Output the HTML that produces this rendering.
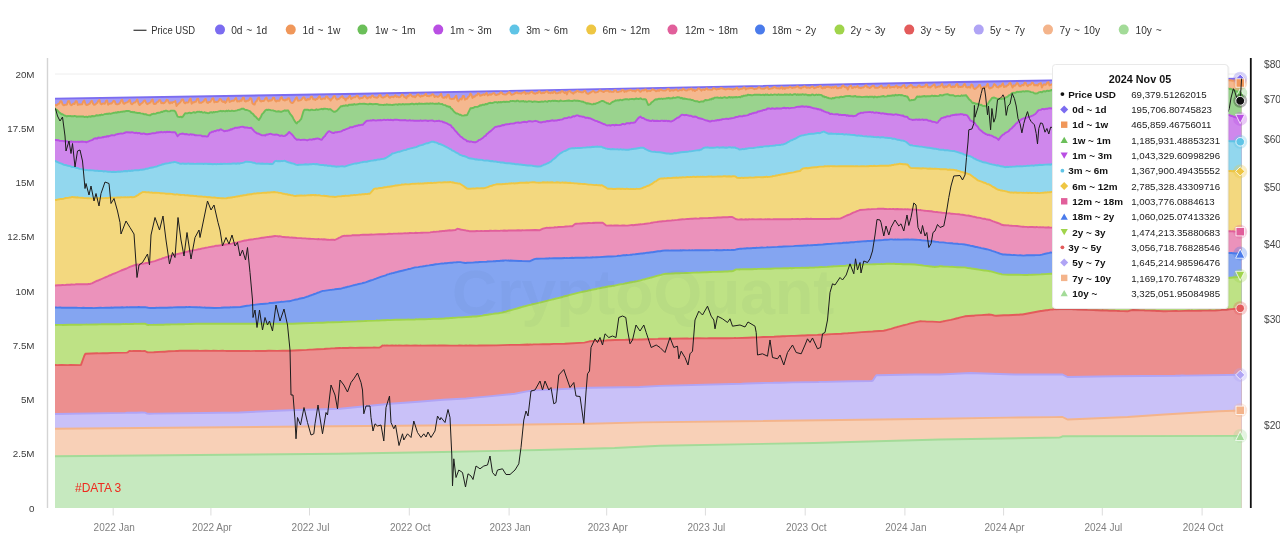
<!DOCTYPE html>
<html lang="en"><head><meta charset="utf-8"><title>Realized Cap - UTXO Age Bands</title>
<style>html,body{margin:0;padding:0;background:#fff;}body{width:1280px;height:546px;overflow:hidden;}svg{display:block;}text{font-family:'Liberation Sans', 'DejaVu Sans', sans-serif;}</style></head><body>
<svg width="1280" height="546" viewBox="0 0 1280 546">
<rect width="1280" height="546" fill="#ffffff"/>
<line x1="55" y1="74" x2="1242" y2="74" stroke="#eeeeee" stroke-width="1"/>
<defs><clipPath id="cp"><rect x="55" y="60" width="1186.5" height="448"/></clipPath></defs>
<g clip-path="url(#cp)" stroke-width="1.9" stroke-linejoin="round">
<path d="M50 515L50 98.6L55 98.6l304.7-4.8l599.8-11.8l91.1-1.6l190.9-1.6L1247 78.8L1247 515Z" fill="#a59bf5" stroke="#7b6cf0"/>
<path d="M50 515L50 104.8L55 104.8l1.1 0.7l1.1-0.6l1-1.1l1.1-0.3l1.1-2.2l1.1 0l1.1 3.1l1.1 0.9l1.1-0.5l1 0.1l1.1-0.4l1.1-3.3l1.1-0.2l1.1 3.3l1.1 0.9l1-0.6l1.1-1.1l1.1 0.6l1.1-2.8l1.1-0.2l1.1 3.9l1.1-0.5l3.2-0.1l1.1-3l1.1-0.9l1.1 3.3l1.1 1.3l1-0.3l2.2-1.1l1.1-1.9l1.1-1l1.1 2.9l1 1.1l1.1-0.2l2.2-1.9l1.1-2l1.1-0.6l1 3.6l1.1 0.6l1.1-0.9l2.2 0.3l1.1-2.9l1.1-0.4l1 4.3l1.1-0.9l1.1-0.3l1.1 0.1l1.1-1.2l1.1-1.6l1.1 0.3l1 2.8l1.1 0.5l1.1-0.2l1.1-0.4l1.1-1l1.1-2.5l1-0.6l1.1 3.6l1.1 0.5l1.1-1l2.2-0.6l1.1-1.4l1-0.9l1.1 3.5l1.1 0.9l2.2-1.9l1 0.1l2.2-3.1l1.1 4.1l1.1 1.6l1.1-1.2l2.1-1.5l1.1-1.6l1.1-0.4l1.1 2.5l1.1 1.3l3.2-1.7l1.1-2l1.1-1l1.1 4.3l1.1 0.2l1.1-0.4l1-1.4l1.1-0.3l1.1-1.6l1.1-0.1l1.1 3l1.1-0.5l1 0.7l1.1-0.6l1.1-1.1l1.1-1.9l1.1 0.4l1.1 2.5l1.1 0.7l1-1.2l1.1 0.8l1.1-1.1l1.1-0.2l1.1-0.6l1.1 5l1.1-1.7l2.1-1.6l1.1-1.3l1.1-2l1.1-0.1l1.1 3.1l1 0.9l1.1-1.1l1.1 0.3l1.1-0.3l1.1-2.6l1.1-1.2l1.1 5.2l1-1.5l1.1 0.4l1.1-1l1.1 0.1l1.1-2.8l1.1-0.2l1 4l2.2 0l1.1-0.8l1.1-0.4l1.1-2.2l1.1-0.4l1 3.5l1.1 0.6l1.1-1l1.1 0l1.1-1.3l1-2.1l1.1-0.4l1.1 4.2l1.1-0.7l1.1 0.3l1.1-0.1l1.1-1.2l1-1.8l1.1 0.4l1.1 2l1.1 0.8l1.1-0.9l1.1 1.7l1-1l1.1-2.8l1.1-1.2l1.1 4.1l2.2-1.2l2.1-0.1l2.2-2.8l1.1 3.7l1.1-0.5l1.1 0.4l1-1.2l1.1 0.5l1.1-2.8l1.1-0.4l1.1 3.6l1.1 0.4l1.1-0.8l1 0l1.1-0.9l1.1-1.9l1.1 0.5l1.1 4.8l1.1 1l1.1 0.3l1-2.9l1.1-0.6l1.1-2.7l1.1-1l1.1 3.4l1.1 0.8l1-0.8l1.1 0.3l1.1-0.5l1.1-2.2l1.1-0.8l1.1 2.7l1 1l1.1-1.2l1.1 0.6l1.1-0.5l1.1-2.5l1.1-0.1l1 2.9l1.1 1l1.1-1l1.1 0.2l1.1 0l1.1-2.9l1.1-0.7l1 2.6l2.2 0.8l1.1-1l1.1 0.2l1.1-1.6l1 0.4l1.1 3.2l1.1 1.1l1.1 0.3l1.1-1.1l1.1-1.7l1.1-2.1l1-0.9l1.1 3.3l1.1 0.1l1.1-0.3l1.1-0.6l2.2-2.6l1 0.3l1.1 2.5l1.1 0.3l1.1-1.4l1.1 0.7l1.1-0.5l1-2.5l1.1-0.1l1.1 2.7l1.1 0.1l1.1 0.7l1.1-1.1l1 0.1l1.1-1.8l1.1-1.1l1.1 2.9l1.1 0.2l1.1-0.8l1.1 0.1l1 0.3l1.1-2.3l1.1-0.1l1.1 2.1l1.1 0.3l1.1 1.8l1.1-1.6l1-0.8l1.1-2l1.1-0.3l1.1 2.4l1.1 1.3l1.1-0.6l1-0.2l1.1-1.1l2.2-1.6l1.1 2.1l1.1 0.3l1 1.9l1.1-1.9l1.1-0.1l1.1-1.6l1.1-1.1l1.1 3.3l1-0.8l2.2-1l1.1 0l1.1-1.5l1.1 0l1.1 2.1l1 0.9l1.1-0.7l1.1 0.1l1.1-0.5l1.1-1.4l1.1-0.3l1 1.6l1.1 1l1.1-0.9l1.1-0.5l1.1 0.7l1.1-1.9l1.1-0.4l1 1.6l3.3 0.6l1.1-0.8l1.1-1.8l1.1-0.1l1 2l1.1 0.6l1.1 0l1.1-0.8l1.1-0.2l1.1-1.9l1 1l1.1 1.5l1.1 0.6l1.1-1.1l1.1-0.1l1.1 0.6l2.1-2l1.1 1.8l1.1-0.6l1.1 1l1.1-0.3l1.1-1.1l1-1.5l1.1 0.5l1.1 2.1l1.1 0.2l1.1 1.1l1.1-2.4l1.1 0.4l1-2.1l1.1 0.4l1.1 1.4l1.1 0.7l1.1-0.5l1.1 1l2.1-2.4l1.1-0.6l1.1 1.7l1.1 0.8l1.1-1.2l1 0.6l1.1-0.7l1.1-0.4l1.1-1.4l1.1 2.4l1.1-0.2l1 0.5l1.1-1l1.1 0.1l1.1-1.4l1.1 0.5l1.1 2.5l1.1-0.8l1 0.1l1.1 0.6l2.2-1.6l1.1-1.6l1.1 3.2l1 0.9l1.1-0.1l1.1-1l1.1 0.9l1.1-3.1l1.1 0.2l1.1 3.8l2.1 0.6l1.1-0.5l1.1 0.1l1.1-1.9l1.1-1.2l1.1 4.7l1 0.9l1.1-1.5l1.1-1.1l1.1 0.7l1.1-3.4l1.1 0l1 3.7l1.1-0.8l1.1-0.1l1.1-1.9l1.1-0.7l1.1-2.6l1 0.9l1.1 3.5l1.1-1.5l1.1 0.2l1.1-1.4l1.1 0l1-2l1.1 0.4l1.1 2.1l2.2-0.8l1.1-0.7l1.1 0.7l2.1-2.2l1.1 2.7l2.2-1.3l1.1 0.6l2.1-1.6l1.1-0.1l1.1 1.7l1.1 0.3l1.1-0.6l1.1-0.1l1-0.8l1.1-1.3l1.1 0.3l1.1 1.5l2.2 0.4l1 0.1l3.3-2.5l2.2 2.7l2.1-0.6l1.1-1l1.1-0.2l1.1-0.7l1.1 1.1l2.1-0.1l1.1 0.4l1.1-1.1l1.1-0.1l1.1-0.7l1.1 2.2l1.1-0.9l2.1 0.4l2.2-1.6l1.1-0.2l1.1 1.5l1.1 0.1l1 0.5l1.1-0.9l1.1 0.3l1.1-1.7l1.1 0l1.1 1.6l1 0.2l1.1-0.9l1.1 0.7l1.1-1l1.1-0.6l1.1-0.1l1.1 1.6l1-0.4l1.1 0.7l1.1-1.1l1.1 0.9l1.1-1.6l1.1 0.4l1 1.5l1.1-0.1l1.1-0.2l1.1-0.8l1.1 0.5l1.1-1.7l1 0.1l2.2 1.8l1.1-1.1l1.1 2.5l1.1-2.8l2.1-0.7l1.1 1.7l1.1 0.2l1.1 0.9l1.1-1.6l1.1 0.3l1-1.4l1.1-0.2l1.1 1l1.1 0l1.1 0.4l2.1 0l1.1-1.3l1.1-0.1l1.1 2.4l1.1 0.5l1.1 0.1l1.1-1l1-0.3l2.2-1.5l1.1 0.4l1.1 1.1l1.1-0.1l1-0.3l1.1-0.5l1.1-1.2l1.1 0l1.1 0.8l2.2 0.8l1-0.9l2.2-0.5l1.1 0.1l1.1 1.1l1.1-0.6l1.1 0.6l2.1 0.1l1.1-1.8l1.1 0l1.1 1.8l1.1 0.2l2.1-0.7l1.1 0l1.1-1.5l1.1 0l1.1 2l1.1-0.8l1 0.5l1.1-1.1l1.1 0.1l1.1-0.5l1.1-0.2l1.1 0.8l1 0.3l1.1-0.5l1.1 0.9l2.2-1.8l1.1 0.1l1 1.6l1.1 0.5l1.1-1.2l1.1-0.5l1.1 0.4l1.1-1l1 0l1.1 2l1.1-0.9l2.2 0.4l2.2-1.7l2.1 0.8l1.1 1.1l1.1-0.2l1.1-0.9l1.1 0.8l1-1.2l1.1 0l1.1 0.6l1.1 0.3l2.2-0.1l2.1-1.5l1.1 0l1.1 2.1l1.1-0.8l1.1-0.2l1.1 0.6l3.2-1.4l1.1 1.5l1.1-0.1l1.1-0.8l2.1 0.5l1.1-1.7l1.1 0.6l1.1 0.9l1.1 0.3l1.1-0.2l1.1-1.1l1 0.3l1.1-0.3l1.1-0.6l1.1 2l1.1-1.1l1.1 1.6l1-1l1.1-0.1l1.1-1.6l1.1 0l2.2 2.3l1.1-1.3l1 0l1.1 0.7l1.1-1.1l1.1-0.7l1.1 1.3l2.1 0l1.1 0.3l1.1-0.2l1.1-1.6l2.2 0.7l1 0.8l1.1-0.6l1.1 0l1.1-0.2l1.1-0.8l1.1 0.2l1 0.6l1.1 0.1l1.1 0.6l3.3-0.9l1.1 0.6l1-0.3l2.2 0.8l1.1-0.8l1.1 0.3l1.1-1.1l1-0.4l1.1 1.9l1.1-0.1l1.1-0.6l1.1 0l1.1-0.3l1.1-1.1l1 0l1.1 1.9l1.1-0.9l1.1 0.1l1.1-0.4l2.1-0.3l1.1 0.1l2.2 1.3l1.1-0.7l1.1 0.1l2.1-1.5l1.1 0.4l1.1 1l3.3 0.1l3.2-1.7l1.1 2l2.2-0.4l1.1-0.5l1 0.1l1.1-1.2l1.1 0.2l1.1 0.8l1.1 0.4l1.1-0.3l1.1 0.5l1-0.5l1.1-1.3l1.1 1.9l1.1-1l1.1 1.2l1.1-1.4l1 0.4l1.1-0.1l2.2-1.2l1.1 1l1.1 0.4l1-0.6l1.1 0.1l1.1-0.2l1.1-0.8l1.1-0.1l1.1 1.3l1-0.1l1.1 0.8l1.1-1.2l1.1 0.1l1.1-1l1.1 0.5l1.1 1l2.1-0.3l1.1 0.5l2.2-1.5l1.1 0.2l1 1.6l1.1-0.6l1.1-0.1l1.1-0.8l1.1 0.3l1.1-1l1.1-0.1l1 2l1.1 0.5l1.1-1.5l1.1 1l1.1-1.2l1.1 0.2l1-0.3l1.1 0.6l1.1 0l1.1 0.7l1.1-1.1l1.1 0.8l1.1-1l1-0.4l1.1 1.9l1.1 0.1l1.1-0.5l2.2-0.1l1.1-2l1-0.2l1.1 1.5l2.2 0.5l1.1 2.1l1.1-2.5l2.1-1.6l1.1 2.7l1.1-0.3l1.1-1.1l1.1 0.7l1.1-0.6l1-1l1.1 1.9l1.1-0.1l1.1 0.5l1.1-0.8l1.1 0.2l1-0.6l1.1-1.1l1.1-0.7l1.1 2.2l1.1-0.1l1.1 0.8l1-0.5l2.2-1.8l1.1 0l1.1 2l1.1-0.1l1 0.2l1.1-0.2l1.1-0.5l1.1-1l1.1-0.7l1.1 2.2l1.1 0.1l2.1-0.4l1.1 0.7l1.1-2l1.1-1.1l1.1 2.8l1-0.6l2.2-0.3l1.1 0.5l1.1-1.2l1.1-0.6l1.1 2.3l1-1.1l2.2 0.8l2.2-2.1l1.1-0.5l1 2.6l1.1 0.5l1.1-0.4l1.1-1.5l1.1 0.1l1.1-1.5l1.1 0.5l1 2.4l1.1-0.9l1.1 0.6l2.2-0.1l1.1-1.4l1.1-0.7l1 1.7l2.2 0.1l1.1-0.4l1.1-0.1l1.1-2l1 0l1.1 2.8l1.1-0.2l1.1 0.5l4.3-3.3l1.1 3.4l3.3-1.3l1.1 0.1l2.1-2.7l1.1 3.1l1.1 0.7l1.1-1.4l1.1 0.8l1-0.6l1.1-1.2l1.1-0.6l1.1 2.1l1.1 0.5l1.1-0.9l1 0.8l1.1-0.7l1.1-1.9l1.1-0.6l1.1 3.4l1.1-0.8l1.1 0.6l1-0.4l1.1 0.2l1.1-2.3l1.1-0.7l1.1 3l1.1 0.6l1-0.2l1.1-0.6l1.1 1l1.1-3.3l1.1 0.6l1.1 3.2l1.1 0.8l1-0.3l1.1-1.2l1.1-0.6l1.1-2l1.1 0l1.1 3.7l1-1l1.1-0.3l1.1-0.6l1.1 0.8l2.2-3.8l1.1 3.9l1 1l1.1-1l1.1 0.1l1.1-1.1l1.1-2.5l1.1 0.7l1.1 1.8l1 0.6l1.1 0.3l1.1-1.7l1.1 0.6l2.2-3.2l1 3.9l1.1-0.7l1.1 0.1l1.1-1l1.1-0.6l1.1-1.7l1-0.4l2.2 4.8l1.1-2.3l1.1 0.6l1.1-1.2l1.1-1.8l1 0.7l1.1 2.1l1.1 0.7l2.2-1.5l1.1 0.4l1-2.5l1.1-0.1l1.1 2.4l1.1 1.1l1.1-1.3l1.1-0.1l1-0.5l1.1-1.7l1.1 0.5l1.1 2.3l2.2-0.4l1.1 0.6l1-1.5l2.2-1.1l1.1 4.6l1.1-2.4l1.1-0.9l1.1 0.5l1-0.4l1.1-1.9l1.1-0.5l1.1 3.4l2.2-1.1l1 0.3l2.2-1.5l1.1-0.5l1.1 1.8l1.1 0.6l1-0.8l1.1 0.1l1.1 0.5l1.1-2.8l1.1 0.4l1.1 2.2l1.1 1l1-1.3l1.1 1.6l2.2-3.8l1.1 0.7l1.1 1.8l1 0.3l1.1-0.8l1.1 1l1.1-0.9l1.1 0.4l1.1-2.7l1 2.3l1.1 1.9l2.2-2.4l1.1 0.6l1.1-1.5l1.1-0.1l1 1.4l1.1 0.8l1.1-0.6l2.2-0.1l1.1-2.2l1.1 0.5l1 2.7l1.1-0.5l1.1 0.3l1.1-0.9l1.1 0.3l1.1-2.3l1-0.1l1.1 3.1l1.1 0.2l1.1-1.4l1.1 1l2.1-2.3l1.1-0.5l1.1 2.4l1.1-0.4l1.1 1l2.2-0.7l1-0.1l1.1-2.7l1.1 2.6l1.1 1.1l1.1-1.2l1.1-0.1l1.1-0.4l1-1.1l1.1-0.5l1.1 2.5l1.1 0.1l1.1-0.7l1.1-0.4l1 0.2l1.1-1.9l1.1 0.1l1.1 2.7l1.1 0.2l3.2-1.1l1.1-1.9l1.1 0l1.1 3.7l1.1-0.4l2.1-1.5l1.1-0.2l1.1-1.8l1.1 0.7l1.1 1.4l1.1 0.7l1-0.8l1.1 0.9l2.2-2.7l1.1 0l1.1 2.9l1 0.1l2.2-0.6l2.2-0.1l1.1-2.4l1.1 3.2l1-0.6l1.1 0.3l1.1-1l1.1-0.1l1.1-1.9l1.1 0l1.1 2.3l1 1l1.1-0.9l1.1-0.5l1.1 0.1l1.1-2.3l1.1 0l1 3.3l1.1-0.7l1.1 1.2l1.1-1.3l1.1 0.3l1.1-2.3l1-0.3l1.1 2.8l2.2-0.6l1.1 0.2l2.2-2.3l1-0.1l1.1 3.2l1.1-0.6l1.1 0.5l1.1-1l2.2-1.3l1-1l1.1 3.2l1.1 0.1l1.1-0.2l1.1-1.4l1.1 0.3l1-2.1l1.1 0.3l1.1 2.2l1.1 0.6l5.4-2.9l1.1 2.5l2.2-0.1l1.1-0.3l2.1-1.6l1.1-1.3l1.1 3.2l2.2 0.9l1-4l2.2-0.6l1.1 0.1l2.2 0.5l3.2-0.6l3.3 0.5l1.1 3l1.1-0.6L1247 83L1247 515Z" fill="#f5b88f" stroke="#f0975a"/>
<path d="M50 515L50 108.4L55 108.4l1.1 1.3l1.1 0.5l1 1.1l1.1 1.4l1.1 0.5l1.1 1l1.1 0.1l2.2 1.4l1 0.1l1.1 0.7l1.1-0.6l1.1 0.3l1.1-0.3l1.1 0.4l2.1 0l1.1-0.3l1.1 0.1l1.1 0.7l1.1-0.4l4.3 0.1l1.1-0.1l1.1 0.6l2.2-0.4l1 0.6l1.1-0.7l1.1-0.1l1.1 0.4l1.1-0.8l2.1 0.3l1.1-0.2l1.1-0.8l2.2 0.2l1.1-0.5l1 0.3l1.1-0.8l1.1 0.5l2.2-1l1.1 0.1l1.1-0.5l1 0.4l1.1-0.6l1.1 0.4l3.3-1l1.1 0.1l1-0.5l1.1 0.4l1.1-0.8l1.1 0.2l1.1-0.1l1.1-0.4l1 0.2l1.1-0.5l1.1 0.1l2.2-0.6l2.2 0.1l1 0.3l1.1 0.8l1.1-0.3l1.1 0.5l1.1-0.3l1 0.6l1.1 0.1l1.1 0.3l2.2 0l1.1 0.4l2.1 0.2l1.1 0.7l1.1-0.2l1.1 0.2l1.1 0.6l2.1 0.3l1.1 0l1.1-0.9l1.1-0.2l1.1-0.5l1.1 0.3l1.1-0.3l1-0.6l3.3-0.5l1.1-0.7l1.1 0.2l1-0.7l1.1-0.1l1.1-0.5l1.1 0l1.1 0.7l2.2-0.2l1-0.6l1.1 0l2.2 0.1l1.1 1l2.2 4.9l2.1 0.5l1.1-0.4l1.1 0.6l1.1-0.9l2.1-3.1l2.2 0.1l2.2-0.8l1.1 0.6l1.1-0.2l2.1-0.9l1.1 0.7l1.1-0.4l1.1-0.6l1.1 0.1l1-0.3l1.1 0.6l1.1-0.4l1.1 0.8l1.1 0l1.1-0.4l1.1 0.7l1-0.1l1.1 0.4l1.1-0.1l1.1-0.7l1.1-0.3l1 0.6l1.1-0.7l1.1 0.3l1.1-0.4l2.2-0.2l3.2-0.9l1.1 0.5l1.1-0.3l1.1 0.1l1.1 0.3l1-0.7l1.1 0.5l1.1-0.7l1.1 0.6l1.1 0l1.1-0.5l2.1 0.5l3.3-0.7l1.1-0.5l1.1-0.1l2.1-1l1.1-0.2l1.1 0.2l1.1 0.9l1.1 0.3l1.1 0l3.2 1.4l1.1 1.5l1.1 0.6l1.1 1l1.1 1.6l1 0.5l1.1 1.4l2.2 2.1l2.2-3.7l1-2.3l1.1-1l2.2-2.7l1.1-0.7l1.1 0.3l1-0.4l2.2 0.6l2.2 0.2l1.1 0.5l1 0.1l1.1 0.6l2.2-0.3l2.2 0.5l1.1-0.1l3.2-1.4l1.1 0.6l1.1-0.5l1.1 0.1l2.1 3.7l1.1 1.2l1.1 1.5l1.1 2.3l2.2 3.6l1 0.6l1.1-1.6l1.1-0.3l2.2-2.6l2.2-7.4l1-1.7l3.3-0.2l1.1 0.6l1.1 0.1l1-0.5l1.1-0.1l1.1 0.4l2.2 0l1.1-0.8l1 0.5l1.1-0.1l3.3-0.9l1.1 0.5l1.1-0.6l1-0.1l1.1 0.3l1.1 0l1.1 0.6l1.1-0.4l1.1 0.1l1.1 1.1l2.1 1.5l1.1 0l2.2-1.1l3.2-3.7l1.1-0.9l1.1 0.1l1.1-0.6l1.1 0.3l1-0.6l2.2 0.4l1.1-0.9l1.1-0.2l1.1 0.2l1-0.3l1.1 0.3l1.1-0.8l1.1 0.6l2.2-0.3l2.1-0.7l1.1 0.3l3.3-0.2l4.3 0.7l1.1-0.6l3.3 0.4l3.2-0.3l2.2 0.4l1.1 0.5l3.2 0.1l1.1 0.1l1.1-0.3l1.1 0.2l1.1-0.7l1 0.6l2.2-0.2l2.2 0.5l1.1-0.5l1 0.1l1.1-0.3l1.1 0l1.1 0.5l1.1-0.8l1.1 0.1l1.1 0.4l2.1-0.6l1.1 0.5l1.1-0.3l1.1 0.1l1.1-0.1l2.1 0l2.2-0.5l1.1 0.1l1.1 0.6l2.1-0.8l1.1 0.7l1.1-0.6l1.1-0.2l1.1 0.4l1.1-0.3l2.1 0.3l1.1-0.3l1.1 0.2l1.1-0.4l1.1 0.4l1 0l1.1-0.5l1.1 0.3l1.1-0.3l2.2 0.6l1.1-0.3l2.1 0.2l1.1-0.6l1.1 0.7l1.1 0.2l1.1-0.2l1 1l2.2 0.2l1.1 1.1l1.1 0l1.1 0.6l1.1-0.2l1 1.7l1.1 0.6l2.2 2.9l2.2 1.7l1.1 0l1 0.5l1.1 0.7l1.1 0.1l1.1 0.8l2.2 0l1-0.4l1.1 0.1l1.1-0.2l3.3-6.8l1 0l2.2-0.5l1.1-0.9l3.2-0.2l1.1-0.5l1.1-0.9l1.1 0.2l1.1-0.7l2.2 0l1.1-0.9l1 0.4l2.2-1.2l1.1-0.3l2.2 0.3l2.1-0.8l1.1-0.2l1.1 0l1.1 0.6l1.1-0.7l1 0.3l1.1-0.3l1.1 0.2l2.2-0.6l1.1 0.5l1-0.4l3.3 0.2l1.1-1l1.1 0.2l1.1-0.2l2.1 0.4l1.1 0l1.1-0.6l1.1 0.1l1.1 0.7l2.1-0.3l1.1 0.1l1.1-0.3l1.1 0.7l1.1-0.4l1.1 0.5l2.1-0.6l1.1 0.2l1.1 0l1.1 0.6l2.2-0.6l4.3 0.6l2.2-0.2l1-0.4l1.1 0.4l2.2-0.6l2.2 0.6l1.1-0.9l1 0l1.1 0.4l1.1-0.4l1.1-0.1l1.1 0.2l1.1-0.3l1 0.3l1.1-0.1l1.1 0.4l1.1 0l1.1-0.9l1.1 0.5l2.1 0.2l5.4-0.6l1.1 0.4l2.2 0.1l2.2-0.6l1.1 0.4l2.1-0.2l1.1 0.4l1.1 0l1.1 0.5l2.1 0.2l1.1 0.6l1.1 0.3l1.1 0.9l1.1-0.2l2.2 0.4l2.1 0.7l1.1-0.1l1.1-0.6l1.1 0.4l1.1-0.8l2.1-0.7l3.3-1.6l1.1-0.1l1.1 0.4l1 0.8l1.1 0.3l1.1 0.8l1.1-0.1l1.1 1l1.1-0.2l1.1-1.2l1-0.7l2.2-0.8l1.1-0.9l1.1 0.3l1.1-0.4l1 0.3l1.1-0.8l2.2 0.6l1.1-0.7l2.2-0.4l2.1 0.1l1.1 0.3l1.1-0.5l1.1 0l1.1-0.2l2.1 0.4l2.2-0.8l1.1 0.4l1.1 0.1l2.1-0.7l1.1 0.8l1.1 0.3l1.1-0.2l1.1 0l1 0.4l2.2 5.4l1.1-0.3l1.1-0.7l1.1-1.6l2.1-1.5l1.1-1l1.1-0.6l1.1 0.2l2.2-0.8l1 0.3l1.1-0.5l1.1 0.5l1.1-0.4l2.2 0l1.1-0.4l1 0.1l1.1-0.5l1.1 0.8l1.1-0.5l1.1 0.3l1.1-0.9l1 0.4l1.1 0l2.2-0.8l2.2 0.4l1.1 0.8l1-0.5l1.1 0.9l1.1-0.2l4.4 0.9l2.1 0.1l1.1 0.6l1.1-0.1l1.1 0.6l1.1 0.4l1 0.2l1.1-0.1l2.2 1.1l2.2-0.8l2.1 0.1l1.1-1.1l1.1-0.4l1.1 0.2l2.2-0.3l1-0.7l1.1 0.3l1.1-1l1.1 0.2l1.1-0.9l1.1-0.2l2.1-0.1l1.1 0.4l1.1 0l1.1-0.4l1.1 0.6l1-0.5l1.1-0.3l1.1 0l1.1 0.5l1.1 0.1l1.1-0.7l1.1-0.2l1 0.6l1.1-0.5l1.1 0.6l1.1-0.5l1.1 0.1l1.1-0.3l1 0.4l2.2-0.5l1.1 0.4l1.1-1.1l1.1 0.3l1.1-0.9l1 0.3l1.1-0.5l1.1 0.1l1.1-0.9l1.1 0.4l1.1-0.1l1 0.4l1.1 0l2.2-0.6l3.3 0.1l2.1-0.2l1.1 0.5l2.2-0.5l1.1 0.6l1.1-0.7l1 0.3l1.1-0.3l1.1 0.6l1.1 0l1.1-0.6l1.1 0.4l1 0.1l1.1-0.5l2.2 0.1l1.1 0.4l1.1-0.7l1.1 0.5l2.1-0.2l2.2 0.3l1.1-0.6l1.1 0.6l1-0.5l1.1 0.4l1.1 0l1.1-0.6l1.1 0.7l1.1 0.1l1-0.6l1.1-0.3l1.1 0.1l1.1 0.8l1.1-0.8l1.1 0.8l1-0.6l1.1 0.5l1.1-0.6l1.1 0.1l1.1 0.5l1.1-0.5l1.1 0.2l1 0.6l1.1-0.2l2.2 0.3l1.1-0.9l1.1 0.2l1 0.6l1.1-0.1l1.1-0.6l1.1 0.5l1.1-0.3l2.2 0.2l1 0.3l1.1 1.3l1.1-0.2l1.1 0.9l1.1-0.3l1.1 0.8l1 0.1l1.1 0.6l1.1 0l1.1 0.3l1.1-0.7l1.1 0.4l2.1-1l2.2 0l1.1 0.2l1.1-0.7l1.1-0.3l1.1 0.5l2.1-0.6l1.1-0.4l4.3-0.1l1.1 0.4l2.2 0.1l2.2-0.5l1.1 0.7l3.2-0.1l2.2 0.5l4.3-0.5l1.1 0.1l1.1 0.5l1.1-0.5l2.1 0.1l1.1-0.2l1.1 0.8l1.1-0.9l2.1 0.9l1.1-0.7l1.1 0.2l4.4-0.9l1 0.6l2.2-0.2l1.1-0.8l1.1 0.4l1.1-0.4l1 0.2l2.2-0.5l1.1 0.4l1.1-0.9l1.1 0.5l1.1 0l1-0.4l1.1 0l1.1 0.5l1.1-0.4l2.2 1l1-0.1l1.1 0.6l1.1 0l2.2 4l1.1-0.1l1.1-0.4l1 0.1l2.2-0.6l2.2-3.1l1.1 0.5l1.1-0.4l1 0.2l4.4-0.7l1.1 0.6l1-0.4l2.2-0.1l1.1 0.2l1.1-0.5l1.1-0.1l1.1 0.5l1-0.4l3.3 0.3l1.1-0.2l1.1-0.9l2.1 0.5l1.1-0.2l1.1-0.7l3.2-0.5l2.2 1.1l3.3-0.1l2.1 1.2l2.2-0.4l1.1-0.1l1.1 0.3l1.1-0.1l1-0.7l1.1 0.5l1.1-0.4l1.1 0.1l1.1-0.3l3.2 4.2l1.1 0.8l2.2 2.8l1.1-0.2l1.1 0.3l1 0.8l1.1-0.1l2.2 0.5l1.1 0.8l1.1-0.4l1 0.9l1.1 0.5l1.1-0.3l1.1 0.6l1.1-0.4l3.2-5.2l1.1-1.2l1.1-1.7l2.2-0.4l3.2 1.4l2.2-0.1l2.2 0.3l1.1-0.8l1 0.5l2.2-1.6l1.1-0.3l2.2-1.8l1-0.3l1.1-1.2l1.1-0.7l1.1-0.2l1.1 0.2l1.1-0.4l1.1-0.8l1 0.3l2.2-0.4l1.1 0.2l1.1-0.4l1.1-0.1l1 0.3l1.1-0.4l2.2-0.1l2.2 0.5l1 0.5l2.2 0.3l1.1 1l1.1 0.1l2.2-0.3l1-0.8l2.2-0.5l1.1 0.4l1.1-0.9l1.1-0.2l1.1 0.4l1-0.4l1.1-0.6l1.1 0.4l1.1-0.2l2.2-0.8l1 0.6l1.1-0.2l2.2 0.5l2.2-0.1l1-0.6l2.2 0.3l1.1-0.4l1.1 0.9l1.1-0.6l3.2 0l1.1 0.5l1.1-0.2l2.2-0.1l1-0.3l1.1 0.2l1.1 0.5l2.2 0l1.1-0.5l2.1-0.1l1.1 0.4l1.1-0.1l3.3 0.2l1-0.2l1.1 0.4l1.1-0.5l1.1 0.7l2.2-0.8l2.1 0.5l1.1-0.1l1.1 0.1l2.2-0.2l1.1 0.5l1-0.5l1.1 0.3l1.1 0.1l2.2-0.4l1.1 0.5l1-0.5l1.1 0.4l1.1-0.8l2.2 0.5l1.1-0.6l1.1 0.7l1-0.7l1.1 0.5l1.1-0.4l1.1 0.6l1.1-0.3l1.1 0.1l1.1-0.2l2.1 0.1l1.1-0.4l1.1-0.1l1.1 0.6l1.1-0.7l1 0.7l1.1-0.7l2.2-0.1l1.1 0.6l1.1 0.1l1-0.5l1.1 0.2l1.1-0.4l1.1 0.6l1.1-0.2l1.1-0.5l1.1-0.2l1 0.6l1.1-0.6l1.1 0.7l1.1-0.5l1.1-0.1l1.1 0.3l1-0.3l1.1 0.2l1.1-0.4l1.1 0.7l1.1-0.6l1.1 0.5l1-0.7l1.1 0.6l1.1 0.2l2.2-0.9l2.2 0.5l1-0.4l1.1 0.2l1.1-0.4l2.2 0.5l1.1-0.3l1.1 0.2l1-0.5l1.1 0.6l1.1-0.6l1.1 0.7l1.1 0l1.1-0.1l2.1-0.6l1.1 0l1.1 0.4l1.1-0.3l1.1 0.4l1-0.8l2.2 0.7l2.2-0.4l1.1-0.4l2.1 0.1l1.1 0.6l1.1-0.1l1.1-0.6l1.1 0.6l1.1-0.8l2.1 0.8l1.1-0.6l1.1 0.6l1.1-0.3l1.1-0.6l2.1 0.3l1.1-0.2l1.1 0.5l1.1-0.6l1.1 0.6l2.1-0.7l1.1 0.4l1.1-0.4l2.2 0.5l2.2-0.3l1-0.4l1.1 0.4l1.1-0.4l1.1 0.5l1.1-0.5l1.1 0.4l1-0.2l1.1 0.1l1.1 0.5l1.1-0.2l1.1 0.3l1.1 1l1-0.3l1.1 0.9l1.1 0.5l2.2 0.3l1.1 0.4l1.1 1.2l1-0.3l0.1 0.4L1247 93.2L1247 515Z" fill="#9ad38e" stroke="#6bbf59"/>
<path d="M50 515L50 140L55 140l1.1-0.1l1.1 0.4l1-0.1l1.1 0.5l3.3 0.2l1.1 0.3l3.2 0.1l1.1 0.6l1.1-0.3l1.1 0.3l1.1-0.6l1 0.7l1.1-0.3l1.1 0.2l1.1-0.1l1.1 0.1l1.1-0.3l1.1 0.4l1-0.4l1.1 0.1l1.1-0.2l2.2 0.4l1.1-0.1l1.1 0.5l1-0.7l1.1-0.1l1.1-0.7l2.2-0.6l1.1-0.6l1-1l1.1-0.3l2.2 0.2l1.1-1l1.1 0.3l2.1-0.2l1.1-0.6l1.1 0.2l1.1-0.5l1.1 0.2l1.1-0.9l1 0.6l1.1-0.7l1.1-0.2l1.1-0.4l1.1-0.1l1.1 0.2l1.1-0.2l1-0.7l1.1-0.1l1.1-0.4l2.2-0.4l1.1-0.2l1 0.2l1.1-0.2l2.2-0.9l1.1-0.3l4.3 0.3l1.1-0.3l2.2 0.7l1 0.1l1.1-0.4l1.1 0.6l2.2-0.3l1.1 0.8l1.1-0.1l1 0.1l1.1-0.3l1.1 0.6l2.2 0.3l3.2-0.5l2.2-0.7l1.1 0.2l2.2-0.3l1-0.7l1.1 0.4l1.1-0.5l1.1 0.2l1.1-0.7l1.1 0.7l1-0.2l1.1-0.4l1.1 0.5l1.1-0.5l2.2 0.2l1.1-0.2l2.1 0.5l2.2-0.1l1.1 0.3l2.2 3.7l2.1-2.1l3.3-0.6l1.1 0.5l1 0.3l1.1-0.3l2.2 0.6l1.1 0.1l1.1-0.5l1.1 0.5l1-0.3l1.1 0.2l1.1 0.7l1.1-0.2l1.1 0.3l3.2 0l1.1 0.3l1.1 0.6l3.3 0l1 0.3l1.1-0.3l1.1-2.1l1.1-1.6l1.1-0.2l1-0.8l1.1 0.1l1.1-0.8l1.1 0.3l1.1-0.8l1.1-0.2l1.1 0.3l1-0.8l1.1-0.4l1.1 0.8l1.1 0.3l1.1 0.8l2.1-0.4l1.1 0.1l1.1-0.7l1.1 0.1l1.1-1l1.1 0.2l1.1-0.9l1 0l1.1-0.8l1.1-0.1l1.1 0.2l1.1-0.5l1.1 0.1l1-0.6l1.1 0l1.1-0.3l2.2 0.9l2.2-0.1l1 0.5l2.2 0.1l1.1-0.3l1.1 1.5l1.1 1l1.1 1.5l1 0.6l1.1 1l2.2 0.5l3.2 1.6l2.2-0.1l1.1 0.2l1.1-1.1l1.1 0.3l2.1-0.8l1.1-0.1l2.2 0.8l2.1 0.2l1.1-0.4l1.1 0.4l1.1 0.1l1.1 0.8l1.1 0.1l1.1-0.4l1 0.5l1.1 0.2l1.1-0.2l2.2-1.5l2.1-2.5l1.1 1.2l1.1 0.8l2.2 2.5l1.1 1.7l2.1 1.6l2.2-0.2l1.1 0.5l4.3-0.4l2.2 0.6l1.1 0l2.2-0.8l2.1 0.3l1.1-0.7l1.1 0.4l1.1-0.6l1.1-0.1l1-0.3l2.2 0.6l1.1 0.6l1.1 0.2l1.1-1.8l1.1-1.2l1-0.8l1.1-1.9l2.2-2.4l1.1-0.5l2.2 1.3l2.1 0.6l1.1-0.7l1.1-0.3l1.1 0.3l1.1-0.5l1 0l1.1-0.3l1.1-0.2l2.2-1.4l1.1 0l1-0.7l3.3-1.1l1.1-0.9l1.1-0.2l1 0.2l2.2-1l1.1 0l1.1-0.6l1.1 0.1l1.1-0.8l1 0.3l2.2-0.6l1.1 0l1.1-1.5l2.1-2l1.1-0.5l2.2-0.1l1.1-0.3l1.1 0.3l1.1-0.6l3.2 0.6l1.1-0.3l2.2 0l1.1-0.3l1 0.4l2.2-0.6l1.1 0l1.1 0.3l2.1-0.5l1.1 0.5l1.1-0.3l3.3 0.4l1-0.6l1.1 0.2l1.1-0.2l3.3 0.7l3.2-0.2l1.1 0.1l1.1-0.2l1.1 0.5l2.2 0.1l1-0.5l1.1 0.4l1.1 0.1l1.1-0.2l1.1 0.4l1.1 0l3.2-0.1l1.1 0.2l1.1-0.6l1.1 0.5l1 0l3.3-0.4l1.1 0.4l1.1 0.2l1-0.4l3.3-0.1l2.2 0.8l2.1-0.5l1.1 0.3l1.1-0.5l1.1 0.7l2.2 0.1l1 0.9l1.1 0l1.1 0.6l1.1 0.2l1.1 0.7l3.2 1.5l1.1 1.9l1.1 0.6l2.2 2.9l1.1 1l2.1 2.6l1.1 0.9l1.1 1.5l1.1 0.3l1.1 1.3l1.1 0.8l2.1 0.9l1.1 1.4l1.1-0.2l1.1 0.5l2.1-0.2l1.1 0.5l2.2 0.2l1.1 0l1.1-0.5l1-0.7l1.1-1.1l1.1-0.2l3.3-2.2l1.1-1.3l1.1-0.3l1-1.7l1.1-0.6l1.1-1.2l2.2-1.5l4.3-4l1.1-0.1l2.2-0.7l1 0.2l3.3-1.3l1.1 0.2l1.1-0.7l4.3-0.5l1.1-0.4l2.2 0l2.1-0.4l1.1-0.6l1.1 0l1.1-0.3l1.1 0.6l2.1-0.4l1.1-0.4l2.2-0.3l2.2 0.4l1-0.6l1.1-0.4l2.2 0.1l1.1 0.3l3.2-0.8l2.2 0.6l1.1 0.7l1.1 0.1l1.1 0.3l3.2-0.8l1.1 0.2l1.1-0.7l1.1-0.2l1.1 0.2l4.3-0.9l1.1 0.5l1.1-0.3l2.1 0l1.1-0.6l1.1 0.1l1.1-0.4l1.1 0l1-0.2l1.1-0.8l1.1-0.4l2.2-0.1l2.1-0.9l1.1 0.4l1.1-0.3l2.2-1.2l1.1 0.4l2.1-1.1l1.1 0l2.2 1l1.1-0.1l1.1 0.4l1-0.1l1.1 0.3l1.1 0.8l2.2-0.1l1.1 0.6l1.1-0.1l5.4 2.6l2.1 0.4l1.1 0.9l1.1-0.1l1.1 0.8l1.1 0.4l1.1 0.6l1.1 0.5l1 0l1.1 0.8l1.1 0.5l1.1-0.1l1.1-0.3l1.1 0.6l2.1-0.8l1.1 0l1.1 0.6l1.1-0.7l2.2 0.3l1 0l2.2-0.3l1.1-0.8l1.1-0.1l1.1 0.5l1.1-0.3l1-0.8l2.2-0.2l1.1 0.4l1.1-0.8l2.1 0.2l1.1-0.4l1.1-0.2l1.1-1.7l2.2-2.7l2.1-1.4l1.1 1.3l2.2 0.5l1.1 1.1l1 0.1l1.1 0.8l1.1-0.1l1.1 0.6l2.2 0.2l1.1-0.7l1 0.7l1.1-0.2l1.1 0.2l1.1-0.2l3.2 0.3l1.1-0.5l1.1 0l1.1 0.4l1.1-0.2l1.1 0.2l1.1-0.3l1 0.6l1.1-0.5l1.1 0.6l1.1 0.1l1.1-0.3l1.1-0.7l1-0.3l1.1-1.1l1.1-0.6l1.1-0.9l1.1-0.1l3.2-2.9l3.3 0.6l1.1-0.4l1.1 0.4l1.1 0.2l1 0.5l1.1-0.3l2.2 1.1l1.1 0.1l1.1-0.3l2.1 0.7l1.1 0.8l4.4 1l3.2 1.4l1.1 0.1l3.2 1l1.1-0.2l1.1-0.7l1.1 0.3l1.1 0l1.1-0.5l1 0.2l1.1-0.7l1.1 0.5l1.1-0.6l1.1 0.1l1.1-0.6l3.2-0.4l1.1-0.3l2.2 0.4l1.1-0.5l1 0l1.1-0.3l2.2-0.3l2.2-0.9l2.1-0.3l1.1-0.5l1.1-0.1l1.1 0.3l1.1-0.1l1.1-0.7l1 0.1l2.2-0.3l1.1-0.3l2.2-1.2l1 0.2l1.1-0.8l1.1 0l1.1-0.6l2.2-0.2l1.1-1l1 0l2.2-0.7l1.1 0l1.1-0.8l1.1 0.1l1.1-0.5l1-0.1l1.1-1.1l2.2 0.1l1.1 0.5l1.1-0.8l3.2 0.7l1.1-0.7l2.2 0.3l3.2 0l1.1-0.5l2.2-0.2l1.1 0.5l1-0.4l1.1 0l1.1 0.5l2.2-0.5l3.2-0.3l2.2-0.7l2.2-0.3l1 0.1l2.2-0.4l2.2 0.4l2.2-0.3l1 0.6l1.1-0.2l1.1 0.2l3.3 1.2l1 0l1.1 0.4l1.1-0.2l1.1 0.9l1.1-0.3l1.1 0.7l1.1-0.3l1 1.1l1.1 0l1.1 0.9l2.2 0.8l2.1 0.4l2.2 1.5l1.1-0.5l1.1 0.5l2.2 0.3l1-0.3l2.2 0.1l1.1 0.8l1.1-0.3l1.1 0.3l4.3-0.1l1.1 0.8l1.1-0.5l1.1 0.8l1-0.4l1.1 0.4l1.1-0.3l1.1 0.6l1.1-0.3l1.1-0.1l1.1-0.6l1-1l1.1-0.6l1.1-0.3l1.1-0.6l2.2 0.1l1-0.5l4.4-0.3l2.1-0.1l1.1 0.5l1.1-0.5l1.1 0.6l1.1 0.3l1.1-0.4l1 0l1.1 0.5l1.1-0.2l2.2 0.8l1.1-0.4l1.1 0.2l1 0.4l1.1-0.1l2.2 0.5l2.2 0l2.1 0.3l1.1 0.4l2.2-0.6l1.1 0.1l1.1 0.5l1-0.1l3.3 0.9l1.1-0.2l1.1 1l2.1 0.2l1.1 0.3l1.1 1.5l1.1 0.6l2.2 0.5l1 0.5l1.1-0.4l1.1 0.2l1.1-0.5l1.1 0.3l2.2-0.2l1 0.4l2.2-0.5l1.1 0.7l1.1-0.4l1.1 0l1 0.1l1.1 0.8l1.1 0.2l1.1-0.1l2.2 1.1l2.1 0.1l2.2 0.9l1.1-0.2l1.1-1.8l1.1-0.9l1-1.4l1.1-0.6l1.1-0.1l1.1-0.7l1.1 0.2l1.1-0.8l1-0.2l2.2 0.1l1.1-0.9l1.1-0.1l1.1-0.4l1 0.1l1.1-0.4l1.1-0.2l1.1 0.2l1.1-0.3l1.1 0.1l1.1-0.5l1 0.4l1.1-0.3l1.1 1l1.1-0.4l2.2 0.6l2.1 3.1l1.1 2l2.2 1l1.1 1.3l1.1 0.3l1 1.8l2.2 2.1l1.1 2l3.2 2.6l1.1 1.2l1.1 0.4l1.1 0.9l1.1 0.2l1.1 0.8l1.1-0.4l1 0.8l1.1 0l2.2 1l1.1 0.8l1.1 0.2l2.1 1.3l1.1 1.3l2.2-3.1l2.2-2.3l1-0.3l1.1-1.2l3.3-1.6l2.1-2.3l1.1-0.7l1.1-1.2l2.2-2l1.1-1.6l1.1-0.5l2.1-2.7l1.1 0.1l1.1-1.2l1.1-0.6l2.1-0.8l1.1 0.1l1.1-0.4l1.1-0.7l2.2-0.4l3.2-1.3l2.2-1.3l3.2-3.9l2.2-0.2l1.1-0.8l1.1-0.2l1.1 0.5l2.1-0.8l1.1 0.3l1.1-0.5l1.1-0.2l3.2 0.3l1.1-0.5l1.1 0.6l2.2-0.2l2.1 0.4l1.1-0.6l2.2 0.6l2.2 0.1l1.1-0.4l1 0.7l1.1-0.1l1.1-0.4l1.1 0.2l1.1 0.4l1.1-0.5l1 0.2l1.1 0.5l1.1-0.1l1.1-0.4l1.1 0.4l1.1-0.3l2.1 0.4l1.1-0.4l3.3 0.2l1.1-0.2l3.2 0.5l1.1-0.3l2.2 0.8l2.1-0.4l1.1 0.3l2.2-0.3l1.1 0.3l1.1-0.4l1 0.6l1.1-0.3l1.1 0.2l1.1 0.6l4.3 0l2.2 0.4l1.1-0.6l1.1 0.5l1.1-0.3l1 0l1.1 0.6l1.1-0.2l2.2 0.4l3.2-0.5l1.1 0.5l1.1 0.2l1.1-0.3l2.2-0.1l1 0.2l1.1 0.5l1.1-0.5l2.2 0.4l2.1 0.7l1.1-0.7l1.1 0.1l1.1 0.7l1.1 0.1l1.1-0.6l2.1 0.4l1.1 0l2.2 0.2l2.2-0.2l3.2 0.1l1.1 0.5l1.1 0.1l1.1-0.4l1 0.5l1.1-0.1l1.1-0.2l1.1 0.1l1.1-0.2l1.1 0.6l2.1-0.7l1.1 0.1l1.1 0.5l1.1-0.2l1.1 0.2l1.1-0.3l1.1 0.5l1 0l1.1-0.6l1.1 0.5l1.1-0.3l1.1 0.4l1.1 0.1l1 0l1.1-0.4l1.1-0.1l1.1 0.5l1.1-0.1l1.1-0.3l1 0.1l1.1 0.3l1.1-0.4l1.1 0.5l1.1-0.3l1.1 0l3.2 0.5l1.1-0.6l1.1 0.6l1.1-0.4l2.2 0.4l2.1 0l1.1 0.3l1.1-0.5l2.2 0.4l2.1-0.3l1.1 0.1l1.1 0.5l2.2 0l1 0.2l1.1-0.1l1.1-0.3l1.1 0l1.1 0.4l1.1-0.5l1.1 0.5l1-0.4l1.1 0l1.1 0.4l1.1-0.2l1.1 0.6l3.2-0.3l1.1 0.2l1.1 0.7l2.2 0.5l1 0.6l1.1 0.1l1.1 0.5l1.1-0.2l1.1 0.3l2.2 1l1 0.1l0.1 0.3L1247 119L1247 515Z" fill="#cf87ec" stroke="#b94fe3"/>
<path d="M50 515L50 160.9L55 160.9l4.3 2l2.2 0.7l2.2 1.1l2.1 0.3l2.2 0.8l2.2 0.3l1.1 0.7l1 0.2l1.1-0.1l2.2 0.8l2.2 0.3l1.1 0.6l1 0.3l2.2 0.2l1.1 0.4l1.1 0.1l1.1 0.7l1.1-0.4l2.1 0.5l1.1-0.3l3.3 0.3l2.1 0.4l1.1-0.2l1.1 0.1l1.1 0.3l3.2-0.1l1.1 0.2l1.1 0.4l1.1-0.4l3.2 0.6l2.2 0l1.1 0.3l2.2-0.2l2.1 0.2l3.3-0.5l1.1 0.3l1.1-0.5l1 0.3l1.1-0.3l2.2-0.3l2.2 0.2l1.1-0.5l1 0.3l2.2-0.5l1.1 0.2l2.1-0.5l3.3 0.1l2.2-0.7l1.1 0.2l3.2-0.6l1.1-0.5l1.1 0l1.1-0.2l1-0.5l4.4-0.8l2.2-0.6l1-0.1l1.1-0.6l3.3-1l1.1-0.6l1 0l1.1-0.5l4.4-0.7l1.1-0.5l1 0.1l1.1-0.3l1.1 0l1.1-0.5l2.2 0.5l1.1 0.5l1 0.1l1.1 0.6l1.1 0.1l1.1 0l1.1-0.3l1.1 0.4l3.2-0.1l1.1-0.3l1.1 0.4l3.2-0.2l1.1 0.2l2.2 0.1l1.1-0.3l4.3 0.1l1.1-0.1l1.1 0.4l1.1-0.3l2.1 0l1.1 0.3l1.1-0.2l4.3 0.4l1.1-0.3l2.2 0.3l1.1-0.3l1.1 0.2l2.1-0.3l1.1 0.2l2.2-0.4l2.1 0.3l3.3-0.2l1.1 0.2l2.2-0.4l2.1 0l1.1 0.3l2.2-0.5l1.1 0.4l1-0.6l1.1 0l2.2-0.5l2.2-0.9l1.1 0l4.3 0.4l2.2 0.7l1.1 0l1 0.5l1.1 0.3l2.2-0.1l2.2 0.3l1-0.3l3.3 0.4l1.1-0.3l3.2 0.4l1.1-0.2l1.1 0.4l1.1-0.5l1.1-1.6l1-1l1.1-0.3l1.1 0.4l1.1-0.2l2.2 0.2l1.1-0.3l1 0.3l1.1-0.3l1.1-0.1l2.2 1.1l2.1 0.7l1.1 0.1l1.1 0.6l2.2 0.3l2.2 1l2.1 0.4l1.1-0.2l4.4-0.2l2.1-0.3l2.2 0.2l1.1 0l1.1-0.3l2.1 0l1.1-0.3l2.2 0.3l1.1-0.2l3.2 0.7l2.2 0.3l1.1-0.1l2.1 0.6l1.1-0.3l1.1 0.5l2.2-0.1l1.1 0.1l1.1 0.5l2.1 0l3.3 0.5l1.1-0.3l1 0.2l1.1-0.2l2.2-0.1l2.2 0.3l4.3-1.5l6.5-1.7l1.1 0.1l1.1-0.4l1.1 0l2.1-0.7l1.1 0l1.1-0.4l2.2-0.4l2.1 0.1l1.1-0.5l3.3-0.6l1.1 0l2.1-0.6l1.1 0.2l2.2-0.8l1.1 0.2l2.1-0.6l2.2-0.1l2.2-0.9l5.4-3.4l1.1-1.1l2.1-0.4l4.4-1.4l1.1 0l4.3-1.6l1.1 0l1.1-0.3l1.1-0.7l2.1-0.4l2.2-0.6l1.1-0.1l1.1-0.5l2.1-0.4l3.3-1.4l3.2-0.8l1.1-0.6l3.3-1.1l1.1 0l3.2-1.4l2.2-0.1l1.1 0.6l1.1 0.1l2.1 0.8l1.1 0.8l1.1 0l3.2 1.3l4.4 2.4l1.1 0.5l1.1 0.8l1 0.2l1.1 1.1l2.2 0.9l2.2 1.5l2.1 0.9l1.1 1.1l2.2 0.7l1.1 0.6l1.1 0l3.2 1.2l1.1 0.7l1.1 0.4l3.2 0.4l3.3 0.8l1.1-0.2l1 0.4l1.1-0.1l3.3 0.3l1.1 0.5l1.1 0.2l2.1-0.2l2.2 0.3l2.2 0.5l1.1-0.2l2.1 0.6l1.1-0.2l2.2 0.6l2.1 0.1l1.1 0.4l2.2 0l2.2 0.5l2.1 0.3l2.2-0.1l3.3 0.6l1-0.2l1.1 0.5l1.1 0.1l2.2-0.1l1.1 0.5l1-0.1l3.3 0.5l1.1-0.1l1.1 0.4l2.1 0.2l2.2-0.1l2.2 0.2l1.1 0.4l4.3 0.5l3.3-0.2l1-0.7l1.1-0.3l1.1-0.7l1.1-0.1l2.2-1.2l1.1-0.2l1-0.9l1.1-0.3l2.2-2.3l1.1-0.6l2.1-1.8l2.2-2.2l1.1-0.7l1.1-1.2l1.1-0.2l1-0.9l2.2-1l1.1-0.2l3.2-1.9l3.3-0.8l2.2 0.2l1.1-0.3l1 0.1l1.1-0.2l2.2 0.1l2.2-0.1l1-0.3l2.2 0l2.2-0.3l1.1 0.1l1.1-0.3l1 0.2l2.2-0.5l1.1 0.2l1.1-0.3l1.1 0.1l1-0.3l1.1 0.4l1.1-0.3l2.2 0.2l1.1 0.7l2.1 0.5l1.1 0.6l1.1 0l1.1 0.4l1.1-0.1l1.1 0.4l1.1 0l1-0.3l3.3 0.4l2.2-0.1l1 0.3l1.1-0.3l1.1 0l1.1 0.4l1.1-0.3l2.2 0.3l2.1-0.1l1.1 0.2l1.1-0.4l1.1 0l1.1-0.4l1 0.1l1.1-0.5l1.1 0.2l5.4-1l2.2-0.2l1.1 0.4l1.1 0.9l3.2 1.6l3.3 1.1l2.1 0.3l1.1-0.2l1.1 0.4l4.3 0.2l6.6 1.2l2.1-0.1l1.1 0.5l1.1-0.3l1.1 0.1l1.1-0.1l1-0.6l2.2 0.2l1.1-0.4l1.1-0.1l2.2-0.5l6.5-0.4l2.1-0.5l1.1 0.1l7.6-1.3l1.1 0.2l1.1-0.6l1.1-0.1l1.1-1l1-0.6l2.2-0.6l1.1 0.1l1.1-0.2l1.1 0.4l4.3 0l2.2-0.1l1-0.3l1.1 0l2.2 0.4l1.1-0.3l1.1 0.1l1-0.2l2.2 0.4l1.1-0.2l1.1 0.2l1.1-0.4l2.1 0l1.1 0.4l1.1-0.4l1.1 0.4l1.1-0.3l1.1 0.7l2.1 0.6l1.1 0.8l2.2-0.1l1.1-0.5l1.1 0.3l1-0.1l1.1-0.6l1.1 0.2l2.2-0.6l4.3-0.1l3.3-0.6l1.1-0.3l1 0.1l2.2-0.4l1.1 0.2l1.1-0.4l1.1-0.2l2.1-0.2l2.2 0.1l1.1-0.4l2.2 0l3.2-0.4l1.1-0.4l2.2 0l1.1-0.2l1 0.1l1.1-0.5l1.1 0.1l3.3-1.2l2.1-1.4l1.1-0.4l1.1-0.9l2.2-0.7l1-0.7l2.2-0.8l2.2-1.4l2.1-1.1l2.2-0.6l1.1 0l2.2-0.7l2.1-0.3l1.1-0.4l3.3-0.3l1.1 0.2l4.3-0.9l1.1 0l1.1 0.2l1.1-0.4l1-0.6l1.1-0.2l1.1-0.5l1.1 0.7l3.2 1.5l3.3-0.2l1.1 0.3l2.2 0.1l1-0.2l1.1 0.5l1.1-0.4l2.2 0.3l2.2-0.1l2.1 0.6l1.1-0.3l1.1 0l1.1 0.3l1.1-0.1l2.1 0.4l3.3 0.1l2.2 0.6l1 0.1l1.1-0.3l1.1 0.3l2.2 0.1l1.1 0.3l2.1 0.3l1.1-0.2l1.1 0.4l3.2-0.1l1.1 0.2l1.1-0.1l1.1 0.4l2.2 0.1l1 0.2l1.1-0.4l1.1 0.5l1.1 0.1l1.1-0.3l2.2 0.1l2.1 0.5l1.1-0.1l1.1 0.3l1.1-0.1l2.1 0.2l1.1 0.6l2.2 0l3.3 1.1l2.1 0.2l1.1 0.5l2.2 0.1l1.1 0.4l2.1 1l3.3 2.9l1.1 0.4l1.1-0.1l1 0.4l3.3 0.4l1.1 0.3l1.1 0l1.1 0.3l2.1 0l1.1 0.3l5.4 0.8l1.1 0l5.4 1.1l1.1-0.1l1.1 0.3l1.1 0.1l1.1 0.4l2.1 0.3l2.2-0.1l1.1 0.5l3.2 0.1l3.3 0.6l1.1 0l1.1 0.2l1-0.1l1.1 0.3l3.3 1l2.2 0.9l1 0.1l1.1 0.4l1.1 0.6l4.3 1.4l2.2 0.5l1.1 0.7l1.1 0.4l1.1 1l1.1 0.3l2.1 1.3l2.2 0.7l1.1 0.6l1.1 0.1l1 0.7l4.4 0.8l3.2 1.1l2.2 0.5l3.3 0.6l1.1 0.5l1-0.2l1.1 0.2l1.1 0.3l1.1 0.5l2.2 0.2l2.1 0.7l2.2-0.4l1.1 0.2l2.1-0.4l1.1 0.3l1.1-0.3l2.2 0l2.2-0.4l1 0.2l2.2-0.3l2.2 0.3l1.1-0.3l2.1 0l2.2-0.5l1.1 0.3l3.2-0.5l1.1 0.3l1.1-0.1l1.1-0.4l2.2 0l2.1-0.4l2.2 0.2l3.3-0.4l4.3-0.1l1.1 0.2l1.1-0.5l1 0.3l1.1-0.5l1.1 0.2l1.1-0.5l1.1 0l2.1-0.5l1.1 0.2l1.1-0.1l1.1-0.4l1.1 0.1l1.1-0.3l1.1 0.1l1-0.6l5.5-0.3l2.1-0.6l1.1 0.1l1.1-0.5l2.2 0l1-0.3l1.1 0.2l1.1-0.6l1.1 0l2.2-0.5l5.4-0.5l1.1-0.2l3.2-0.1l1.1-0.6l1.1 0.1l2.2-0.4l1.1 0.1l1-0.5l1.1 0.2l1.1-0.5l3.3-0.4l2.1-0.6l1.1 0.3l2.2-0.8l1.1 0.1l3.2-0.7l1.1 0.1l1.1-0.4l2.2 0l1.1-0.5l2.1-0.5l1.1 0.1l4.3-0.9l1.1 0.1l1.1-0.3l1.1 0l1.1-0.4l1.1 0l1-0.5l1.1-0.1l1.1 0.2l5.4-1.3l3.3-0.2l1.1-0.4l1.1 0l1-0.4l1.1 0.1l1.1-0.4l3.3-0.3l1-0.3l2.2-0.1l1.1-0.4l2.2 0l3.2-0.4l2.2-0.6l2.2 0l3.2-0.7l2.2 0l2.2-0.5l1-0.4l1.1 0.1l1.1-0.4l1.1 0.3l1.1-0.2l2.1-0.6l1.1 0.1l1.1-0.5l1.1 0.2l2.2-0.7l1.1 0.3l1-0.4l1.1 0l2.2-0.4l1.1 0l1.1-0.5l1.1 0.2l2.1-0.6l1.1 0l2.2-0.2l1.1 0.2l1-0.4l3.3-0.1l1.1 0.2l3.2-0.2l1.1-0.3l1.1 0.1l1.1-0.4l1.1 0.3l4.3-0.7l1.1 0.3l1.1-0.3l2.1 0l1.1-0.4l1.1 0.4l1.1-0.1l1.1 0.2l2.1-0.2l1.1 0.4l1.1-0.3l2.2 0.4l1.1-0.2l1.1 0.2l1.1-0.1L1247 141.5L1247 515Z" fill="#92d7ee" stroke="#5fc4e6"/>
<path d="M50 515L50 199.9L55 199.9l1.1 0.1l1.1-0.4l2.1-0.3l1.1-0.4l1.1 0.1l2.2-0.3l2.1-0.7l2.2-0.1l3.3-0.7l1-0.3l1.1 0.3l1.1 0l2.2 0.3l1.1-0.2l1.1 0.3l1 0l1.1 0.3l1.1-0.2l2.2 0.4l2.2 0l1 0.2l1.1 0l1.1 0.1l1.1-0.1l1.1 0.3l1.1-0.3l1 0.2l1.1-0.2l2.2 0l1.1-0.2l1.1 0.2l1-0.2l1.1 0.2l3.3-0.2l1.1-0.2l2.1 0.2l1.1-0.4l1.1 0l2.2 0.1l1.1-0.2l1.1 0l1 0.2l2.2-0.4l2.2 0.1l1.1-0.2l1 0.1l3.3-0.1l1.1 0.1l1.1-0.3l1.1 0.3l1-0.3l1.1-0.1l1.1 0.2l2.2-0.2l1-0.3l1.1-0.5l1.1-0.9l1.1-0.5l1.1-1l3.2-1.8l1.1 0.1l1.1-0.1l1.1 0.3l1.1 0.1l1.1-0.2l2.1 0.4l1.1-0.2l1.1 0.4l1.1 0.1l1.1-0.3l4.3 0.3l1.1 0.3l1.1 0l3.2 0.2l1.1 0.3l1.1 0l1.1-0.1l2.2 0.1l1 0.2l1.1 0l1.1 0.4l2.2 0.3l1.1-0.3l1.1 0.1l1 0.3l1.1 0l1.1 0.3l1.1-0.1l2.2 0l1 0.5l2.2-0.1l3.3 0.5l2.1-0.1l2.2 0.4l1.1-0.1l1.1 0.2l3.2 0.3l1.1-0.1l2.2 0.5l1.1-0.3l3.2 0.7l1.1-0.3l1.1 0.3l2.1 0.3l2.2-0.1l2.2 0.4l1.1 0.1l1.1-0.1l1 0.2l2.2 0.2l1.1-0.1l1.1 0.2l2.1-0.1l2.2-0.5l1.1 0l1.1-0.3l1.1 0l1.1-0.4l2.1-0.1l1.1-0.5l1.1 0.1l1.1-0.5l1.1 0.2l1-0.6l1.1 0.1l2.2-0.5l2.2-0.3l2.1-0.5l1.1 0l1.1-0.3l1.1 0.1l1.1-0.4l2.2-0.4l1 0.1l1.1-0.3l2.2 0l1.1-0.2l1.1 0l1-0.2l2.2-0.3l2.2 0.2l1.1-0.4l2.1 0.1l2.2-0.4l1.1 0.1l1.1-0.2l2.1 0.4l1.1 0l1.1 0.3l2.2 0.2l2.1 0.8l1.1 0l2.2 0.6l1.1-0.1l1.1 0.6l1-0.1l2.2 0.7l1.1-0.1l1.1 0.4l2.2 0.3l1-0.3l4.4-0.2l2.2 0.1l1-0.2l1.1 0.2l1.1-0.2l2.2-0.2l1.1 0.2l1-0.4l1.1 0.2l1.1-0.3l1.1 0.3l1.1-0.2l2.1 0.4l1.1-0.2l1.1 0.1l1.1 0.3l2.2 0.3l1.1-0.1l1 0.2l1.1 0l3.3 0.5l2.2 0.1l1 0.2l1.1-0.1l1.1 0.4l3.3-0.7l3.2-0.2l2.2-0.3l1.1 0.1l1-0.3l1.1 0.2l2.2-0.2l1.1-0.1l1.1-0.4l1 0.2l2.2-0.5l1.1 0.3l1.1-0.3l1.1 0l2.1-0.5l1.1 0.3l1.1-0.4l2.2 0l1.1-0.3l2.1 0.1l1.1-0.4l1.1 0.2l1.1-1.1l3.2-3.7l1.1-0.5l1.1-0.1l1.1 0.2l1.1-0.4l4.3-0.6l2.2-0.5l2.2-0.2l1-0.3l1.1 0.1l3.3-0.5l1.1-0.4l1 0l1.1-0.4l1.1 0l4.4-0.6l1-0.4l1.1 0.1l2.2-0.3l2.2 0.1l2.1-0.1l2.2-0.4l1.1-0.1l1.1 0.1l1.1-0.2l2.1-0.1l1.1-0.1l1.1 0.2l1.1-0.3l1.1 0.2l1-0.2l1.1 0.1l1.1-0.3l2.2 0l1.1-0.2l1 0.1l2.2-0.3l1.1 0.3l2.2-0.5l1.1 0.3l1-0.3l2.2-0.2l1.1 0l1.1 0.2l3.2-0.4l1.1 0l1.1 0.2l1.1-0.3l1.1 0.2l2.1-0.3l1.1 0.5l1.1-0.2l1.1 0.5l1.1 0.2l2.2 0.3l1 0.3l1.1-0.1l4.4 2.7l1 0.9l2.2 1.5l1.1 0.2l2.2 0l3.2-0.4l1.1 0.2l2.2-0.4l3.2 0.2l1.1-0.2l2.2 0l1.1-0.1l3.2-0.9l2.2-1.1l2.2-0.4l1-0.6l2.2-0.5l1.1-0.3l2.2 0l1-0.2l1.1 0.2l1.1 0l1.1-0.3l1.1 0.1l2.1-0.4l1.1 0.2l1.1-0.3l1.1-0.2l1.1 0.1l1.1-0.2l1.1 0.1l1-0.1l1.1 0.2l1.1-0.3l1.1 0.1l3.2-0.5l4.4-0.1l2.2-0.2l2.1 0.2l1.1-0.3l1.1 0l1.1-0.1l2.2 0l2.1 0.3l1.1 0l1.1 0.1l3.2-0.2l1.1-0.2l3.3 0.2l1.1-0.2l1.1 0.2l4.3-0.2l1.1 0.3l1.1 0l2.1-0.3l3.3 0.4l1.1-0.1l1-0.3l1.1 0.4l2.2-0.2l1.1 0.3l2.1 0.2l1.1-0.2l1.1 0.2l2.2 0.1l1.1 0.3l2.1 0l2.2 0.4l1.1-0.1l1.1 0.2l1.1 0l1 0.2l1.1-0.2l4.4 0.7l2.1 0l4.4 0.5l1.1-0.3l2.1 0.5l1.1-0.2l1.1 0.4l1.1-0.3l1.1 0.5l1.1 0.7l1 0.5l2.2 1.4l1.1 0.5l3.3-0.1l2.1 0.3l2.2 0l1.1-0.3l1.1 0.1l2.1 0l1.1 0.2l1.1-0.3l3.3 0.4l1-0.4l3.3 0.4l1.1-0.3l1.1 0.3l1-0.2l2.2 0.2l1.1-0.3l1.1 0.1l2.1 0l2.2-0.5l2.2-1.1l1.1-0.2l2.1-1.1l1.1-0.2l1.1-0.4l1.1-0.8l1.1-0.4l3.2-2.5l1.1-0.3l1.1-0.8l1.1-0.9l2.1-1.1l1.1-0.1l2.2 0l1.1-0.3l1.1 0.2l1.1-0.1l1-0.3l3.3 0.1l2.2-0.3l2.1 0l1.1-0.3l1.1 0.3l1.1-0.1l1.1-0.3l1.1 0.1l1 0l1.1-0.3l1.1 0.2l1.1 0l2.2-0.4l2.1 0.1l1.1-0.1l1.1 0.1l1.1-0.3l1.1 0l2.1 0.3l1.1-0.4l1.1 0l1.1 0.2l1.1-0.2l1.1 0.2l1.1-0.3l3.2 0.3l3.3-0.4l1 0.1l1.1-0.1l1.1 0.2l4.3-0.1l1.1-0.2l1.1 0.1l2.2-0.1l1.1 0.2l1-0.3l2.2 0l1.1 0.2l3.3-0.2l1 0.2l1.1 0l1.1-0.2l1.1 0l1.1 0.1l1.1 0.5l1 0.8l3.3 0.3l1.1-0.3l2.2 0.3l1-0.3l1.1-0.1l1.1 0.2l1.1 0l2.2-0.4l1 0.1l2.2 0.1l2.2-0.4l1.1 0.1l1.1-0.2l2.1 0l1.1 0.2l2.2-0.1l1.1-0.2l1.1 0.1l1-0.4l1.1 0.3l1.1-0.1l1.1 0l1.1-0.3l1.1 0l1-0.6l1.1 0.1l1.1-0.2l1.1-0.4l1.1 0l1.1-0.5l1.1 0l3.2-0.8l1.1 0l1.1-0.2l1.1-0.5l1 0.2l1.1-0.5l5.4-0.8l3.3-0.9l3.2-0.5l1.1-1.2l1.1-0.8l1.1-0.6l3.3-0.4l1 0.2l4.4-0.7l3.2-0.3l1.1 0.1l3.3-0.7l4.3-0.1l1.1-0.4l1.1 0.3l1.1-0.2l2.1 0.1l1.1-0.2l1.1 0l1.1 0.2l2.2-0.1l1 0.2l3.3-0.3l2.2 0.2l2.1-0.2l1.1 0.1l1.1-0.1l1.1 0.2l2.2-0.1l4.3-0.1l1.1 0.3l1.1-0.2l1.1 0.1l1-0.1l1.1 0.2l3.3-0.2l1.1 0.1l1-0.2l1.1 0.3l2.2-0.2l1.1 0l1.1-0.2l2.1-0.1l1.1 0.3l1.1-0.4l2.2 0.3l4.3-0.4l1.1 0.1l1.1-0.2l1.1 0.2l1-0.2l1.1 0.1l1.1-0.1l2.2 0.1l1.1-0.3l1 0.1l1.1-0.6l1.1 0.2l1.1-0.6l1.1 0.1l1.1-0.3l1.1 0l2.1-0.6l1.1 0.3l1.1 0l1.1 0.2l2.1-0.1l1.1 0.4l1.1-0.1l2.2 2.8l1.1 0.7l1.1 0.2l3.2 0l2.2 0.2l1.1-0.1l3.2 0.3l1.1-0.2l2.2 0.1l1.1 0l2.1 0.3l2.2-0.2l1.1 0.3l1.1-0.2l1.1 0.3l1-0.2l1.1 0l2.2 0.2l1.1 0l1.1 0.3l1 0l1.1-0.1l1.1 0.2l3.3 0l1 0.4l1.1 0.1l1.1-0.3l1.1 0.2l2.2 0l2.1 0.5l1.1 0l1.1 0.6l2.2 0.3l1.1 0.7l1 0.1l2.2 0.6l1.1 0.4l1.1 0.2l2.1 0.7l2.2 0.9l3.3 2.5l2.1 1.4l1.1 1.1l1.1 0.6l4.3 1.5l1.1 0.7l2.2 0.5l1.1 0.8l1.1 0.4l1.1 0.1l1 0.7l1.1 0.4l2.2 1.6l1.1 0.4l2.2 1.5l2.1 0.9l1.1 0.2l1.1 0.5l1.1-0.1l1.1 0.5l1 0l3.3 0.8l1.1 0.4l1.1 0.1l1 0.4l1.1-0.2l2.2 0.3l1.1-0.3l1.1 0.1l1.1 0.2l1-0.1l1.1 0.2l1.1-0.2l1.1 0l1.1 0.3l1.1-0.2l1 0.2l1.1 0l1.1-0.2l2.2 0.3l1.1-0.3l1 0.3l3.3-0.1l1.1-0.1l1.1 0.3l1.1-0.3l1 0.3l1.1 0l1.1-0.2l1.1 0l1.1-0.2l1.1 0l1.1-0.4l1 0.3l1.1-0.3l1.1 0.1l1.1-0.3l1.1 0.1l1.1-0.3l1 0l1.1-0.3l1.1 0.1l1.1-0.3l1.1 0.2l2.1-0.3l1.1 0.1l2.2-0.2l1.1-0.4l1.1 0.2l1.1-0.1l1-0.2l1.1-0.3l1.1 0.3l1.1-0.3l2.2 0l2.1-0.5l1.1 0.3l1.1-0.4l1.1-0.2l1.1 0l1 0.2l2.2-0.4l1.1-0.2l1.1 0.2l3.2-0.5l2.2 0.1l1.1-0.4l1.1 0l1.1-0.2l1.1 0.3l1-0.5l1.1 0.3l2.2-0.3l1.1-0.3l1.1 0.1l3.2-0.7l2.2-0.1l1.1-0.5l1 0.2l1.1-0.4l2.2-0.4l4.3-0.4l2.2-0.5l1.1 0l1.1-0.5l1.1-0.3l1.1 0l2.1-0.4l1.1-0.1l1.1-0.3l1.1 0.2l1.1-0.4l1 0l3.3-0.6l1.1-0.3l1.1 0l1-0.4l3.3-0.3l1.1-0.4l2.2-0.1l2.1-0.3l1.1-0.5l2.2-0.4l1.1 0.1l4.3-0.7l2.2-0.1l4.3-0.8l1.1-0.1l2.2-0.5l4.3-0.5l4.3-0.6l1.1 0.1l1.1-0.6l1.1-0.1l1.1 0.1l1.1-0.3l2.1-0.2l3.3-0.7l1.1 0.2l1-0.1l1.1-0.4l1.1-0.1l2.2-0.5l1.1 0.2l1.1-0.2l1-0.4l3.3-0.2l3.3-0.7l1 0.1l2.2-0.1l1.1-0.4l2.2 0.2l4.3-0.7l1.1 0.2l1.1-0.3l1 0.2l2.2-0.3l2.2 0l2.2-0.5l1 0.1l2.2-0.2l1.1 0.2l1.1-0.2l1.1-0.3l2.1-0.1l1.1 0.2l1.1-0.1l2.2 0.2l1-0.2l1.1 0.2l1.1-0.1l1.1 0.2l1.1 0l1.1-0.2l1.1 0.1l1-0.2l0.1 0.2L1247 171.2L1247 515Z" fill="#f3d87f" stroke="#eec643"/>
<path d="M50 515L50 285.5L55 285.5l3.2-0.3l2.2 0l2.2-0.2l2.2 0.1l2.1-0.4l1.1 0.1l1.1-0.2l1.1 0.1l1.1-0.2l3.2 0.1l1.1-0.3l2.2-0.1l4.3 0.1l3.3-0.2l2.1 0.1l1.1-0.2l1.1 0.1l1.1-0.5l1.1-0.3l5.4-2.6l1.1-0.2l1.1-0.6l1-0.4l4.4-2l2.2-0.8l2.1-1.2l1.1-0.2l2.2-1.1l2.2-0.9l1-0.3l5.5-2.5l5.4-2l3.2-1.6l5.4-1.9l2.2-0.5l1.1 0.1l3.3-0.9l1 0.1l1.1-0.4l1.1 0l1.1-0.4l1.1 0l1.1-0.3l1 0l2.2-0.8l3.3-0.8l5.4-2l1.1-0.1l1.1-0.7l1-0.1l2.2-0.9l2.2-0.5l1.1-0.5l1.1-0.4l2.1-0.4l2.2-0.7l1.1 0l1.1-0.5l7.6-1.7l2.1-0.8l1.1 0l1.1-0.5l2.2-0.5l2.1-0.3l1.1-0.4l2.2-0.2l2.2-0.6l2.1-0.3l2.2-0.6l1.1-0.1l2.2-0.6l2.1-0.3l1.1-0.3l5.4-0.9l1.1-0.4l2.2 0l4.3-0.7l1.1-0.1l2.2-0.5l2.1-0.3l1.1 0.1l3.3-0.7l1.1-0.4l1 0l3.3-0.7l2.2-0.7l1-0.1l4.4-1.2l1.1 0l1.1-0.4l1-0.1l1.1-0.3l4.4-0.5l1.1-0.3l1 0l1.1-0.3l1.1 0l4.3-0.8l1.1 0l3.3-0.7l1.1-0.1l1 0.1l1.1-0.5l1.1 0.1l4.3-0.7l1.1 0.1l1.1 0l1.1 0.4l1.1-0.2l1.1 0.1l1.1 0.3l4.3 0.5l1.1-0.1l1.1 0.1l2.1 0.4l1.1-0.1l2.2 0.3l1.1-0.1l2.1 0.3l4.4 0.1l1.1 0.3l3.2 0l1.1 0.2l1.1 0l1.1 0.1l1.1 0l1 0.2l2.2 0l2.2 0.2l1.1 0l1 0.2l1.1-0.3l1.1 0.4l2.2-0.1l1.1 0.2l1.1-0.2l3.2 0.4l1.1-0.1l1.1 0.3l2.2-0.2l2.1 0.1l1.1 0.2l3.3-1.6l1-0.7l1.1-0.4l2.2-1.2l2.2-0.3l1 0.1l1.1-0.2l1.1 0.1l3.3-0.2l1-0.3l3.3-0.1l2.2 0.1l2.1-0.1l1.1-0.3l2.2-0.2l5.4 0l3.3-0.2l1.1 0.1l6.5-0.5l2.1 0.1l1.1-0.1l1.1 0.1l1.1 0l2.2-0.1l2.1-0.3l3.3 0.1l1.1-0.3l1 0l3.3 0l1.1-0.2l1.1 0.2l1.1-0.2l1 0.2l1.1-0.2l2.2-0.2l1.1 0.2l1.1-0.1l1.1 0l1-0.3l4.4 0.1l1.1-0.3l2.1 0.2l1.1-0.1l1.1 0l2.2-0.3l1 0.2l1.1-0.2l4.4 0l2.1-0.2l1.1-0.3l1.1 0l1.1-0.3l2.2 0.1l1-0.3l2.2-0.1l1.1-0.2l1.1 0l2.1-0.4l1.1 0.2l1.1-0.4l1.1 0.1l3.3-0.5l1 0.2l2.2-0.3l2.2-0.1l2.2-1.3l1 0.1l2.2 0.6l3.3 0.6l1 0.1l2.2 0.6l1.1 0l1.1 0.4l1.1-0.1l2.1 0.1l1.1-0.1l1.1 0.2l2.2-0.3l2.1 0.1l2.2-0.2l2.2 0.2l1.1-0.2l2.1 0.1l2.2 0l1.1-0.2l1.1-0.1l1.1 0.2l3.2-0.2l4.3 0.2l1.1-0.3l1.1 0l1.1 0.1l1.1-0.2l3.2 0.2l1.1-0.2l3.3-0.1l2.1 0.1l1.1-0.1l1.1 0.1l2.2-0.2l3.2 0.2l1.1-0.3l1.1 0.2l3.3-0.3l2.1 0.2l6.5-0.3l4.4 0.2l3.2-1.5l3.3-0.9l2.2 0.1l1-0.2l1.1 0.1l1.1-0.2l2.2-0.1l1.1-0.2l2.1 0.1l1.1-0.4l5.4-0.1l2.2-0.4l3.2-0.1l1.1-0.1l2.2 0l2.2-1.9l1.1-0.7l1 0.1l1.1-0.2l1.1 0l2.2-0.2l1.1 0.1l1-0.3l2.2 0l1.1 0.1l2.2-0.3l3.2 0.1l1.1-0.3l1.1 0.2l1.1-0.2l3.2-0.1l1.1 0.1l2.2-0.1l1.1 0l3.2 2.6l1.1 0.3l4.4-0.2l1 0.2l2.2-0.2l1.1 0.1l2.2-0.1l1 0.2l2.2 0l1.1-0.2l1.1 0.1l1.1-0.1l1.1 0.2l2.1 0l3.3-0.5l1.1-0.1l1 0.2l3.3-0.5l1.1 0.1l1.1-0.3l1 0l1.1-0.2l1.1 0.1l1.1-0.3l1.1-0.1l6.5-0.9l1.1-0.4l1.1 0l1-0.3l2.2-0.3l1.1 0l1.1-0.4l1.1-0.1l1-0.2l1.1 0.1l1.1-0.2l3.3-0.2l1.1-0.3l4.3-0.2l1.1-0.3l1.1 0.1l4.3-0.5l1.1-0.2l4.3-0.4l1.1 0.1l3.3-0.5l1.1 0.1l3.2-0.4l1.1 0.1l3.2-0.3l1.1 0.2l2.2-0.1l1.1-0.3l2.2 0l1-0.1l4.4 0l1.1-0.1l3.2-0.1l2.2-0.3l1.1 0.2l2.1-0.3l3.3 0l2.1-0.3l1.1 0.1l1.1-0.1l2.2 0l2.2-0.2l2.1 0l1.1 0.2l3.3 2.1l1 0l1.1 0.3l3.3-0.3l2.2 0.3l2.1-0.3l1.1 0.2l1.1 0l1.1-0.2l1.1 0.1l2.1-0.1l3.3 0.1l5.4-0.2l1.1 0.2l2.2 0l1.1-0.2l1 0.2l1.1-0.2l2.2 0l1.1 0.2l2.1-0.1l1.1-0.1l1.1 0.1l1.1-0.2l2.2 0.1l3.2-0.1l1.1 0.2l1.1-0.2l6.5 0.1l2.2-0.2l1 0.1l4.4-0.2l2.1 0.3l2.2-0.3l2.2 0.1l2.2-0.2l3.2 0.2l1.1-0.2l1.1 0.2l1.1-0.1l1 0.1l2.2-0.1l1.1 0.1l1.1-0.1l4.3 0.1l2.2-0.1l4.3 0.1l2.2-0.3l1.1 0.1l2.2-0.1l1 0.2l1.1-0.2l1.1 0.1l2.2-0.2l3.2-1.4l3.3-1.7l3.2-1.2l3.3-1.6l2.2-0.8l2.1-1l1.1-0.3l1.1-0.6l5.4-0.4l3.3-0.3l2.1 0.1l1.1-0.3l5.4-0.2l1.1-0.3l5.5 0.2l1 0.2l1.1-0.1l2.2 0.2l2.2-0.1l1 0.1l2.2-0.2l1.1 0.3l3.3-0.2l1 0.2l3.3 0l1.1 0.2l2.1-0.2l1.1 0.2l1.1-0.1l3.3 0.3l1.1-0.3l2.1 0.3l1.1-0.2l2.2 0.4l2.2 0.3l1-0.1l1.1 0.4l1.1 0l1.1 0.2l1.1 0.1l1.1 0.2l2.1 0.1l2.2 0.3l1.1 0l1.1 0.2l1.1 0.3l1 0.1l1.1 0.2l1.1-0.1l2.2 0.4l1.1 0l2.1 0.4l2.2 0.1l3.2 0.5l2.2-0.1l1.1 0.4l1.1-0.1l4.3 0.5l3.3 0.2l1.1 0.3l2.1 0.1l4.4 0.9l1-0.1l3.3 0.7l2.2 0.6l1.1 0l2.1 0.7l3.3 0.4l3.2 0.9l1.1 0l1.1 0.2l1.1 0.5l1.1-0.1l1.1 0.4l1 0l1.1 0.6l1.1 0.4l1.1 0.6l1.1 0.2l1.1 0.6l1.1 0.3l3.2 1.2l2.2 1.1l2.1 0.4l1.1-0.1l2.2 0.3l1.1-0.1l1.1 0.3l2.1 0.1l1.1 0.2l2.2 0l2.2 0.1l4.3 0.6l1.1 0.1l1.1-0.1l1 0.3l2.2 0l1.1 0.3l2.2-0.3l2.1 0.1l3.3 0.3l1.1-0.3l1.1 0.1l1 0.3l1.1-0.2l1.1 0l1.1 0.2l1.1-0.2l1.1 0.2l1.1 0.1l2.1 0l1.1-0.2l1.1 0.2l2.2 0.1l2.1-0.2l2.2 0.3l1.1-0.2l2.1 0.1l1.1 0.2l2.2-0.1l1.1 0.2l2.2-0.2l2.1 0.3l1.1-0.2l3.3 0.3l2.1-0.2l1.1 0.1l1.1 0l2.2 0.2l1-0.2l1.1 0.1l1.1 0l2.2 0.2l3.2-0.1l3.3 0.2l1.1-0.1l1.1 0.2l3.2-0.1l1.1 0.2l2.2 0.1l1.1-0.2l1-0.1l1.1 0.2l1.1-0.1l1.1 0.2l2.2-0.1l2.1 0.2l1.1-0.1l2.2 0.2l3.2-0.1l3.3 0l1.1 0.2l2.2 0.1l5.4 0l2.1 0.2l2.2-0.2l3.3 0.2l2.1 0l1.1 0.2l3.3-0.2l1.1 0.2l3.2 0l1.1-0.1l2.2 0.3l2.1-0.2l1.1 0l1.1 0.3l2.2-0.2l2.1 0.3l3.3 0l1.1-0.2l2.1 0.3l2.2-0.2l1.1 0.3l2.2-0.2l3.2 0.3l1.1-0.1l1.1 0.1l1.1-0.2l1.1 0.2l1-0.1l3.3 0.2l1.1-0.1l1.1 0.2l2.1 0.1l1.1 0l1.1-0.2l1.1 0.2l1.1 0l1.1 0.1l2.1-0.2l1.1 0.2l1.1-0.1l1.1 0.2l1.1-0.1l1.1 0.2l2.1-0.2l2.2 0.2l2.2-0.1l2.1 0.2l2.2-0.1l2.2 0.2l1-0.2l2.2 0.3l1.1-0.2l1.1 0.2l2.2-0.1l2.1 0.2l1.1 0l1.1-0.2l1.1 0.3l5.4-0.1l1.1 0.2l1.1-0.1l2.1 0.3l6.5 0.1l0.1-0.1L1247 231.6L1247 515Z" fill="#eb92bb" stroke="#e15f9b"/>
<path d="M50 515L50 307.5L55 307.5l1.1-0.1l1.1 0.2l3.2-0.1l1.1 0.2l1.1-0.1l1.1 0.1l3.2 0l1.1-0.1l1.1 0.2l3.2 0l1.1-0.1l3.3 0l1.1 0.2l2.1 0l2.2 0.1l1.1-0.2l2.2 0.2l4.3-0.1l1.1 0.1l1.1-0.1l1.1 0.2l7.5-0.4l2.2 0.2l3.3-0.2l1.1 0.1l1-0.2l1.1 0.1l1.1 0l1.1-0.2l1.1 0.2l2.2-0.2l5.4 0l2.1-0.2l1.1 0.2l2.2-0.1l1.1-0.2l1.1 0l1.1 0.2l1-0.2l2.2 0.1l1.1-0.2l1.1 0.1l1-0.1l2.2 0.1l1.1-0.2l2.2 0.2l4.3-0.1l3.3 0.6l2.1 0.3l1.1-0.1l3.3 0.1l2.1-0.2l1.1 0.1l1.1-0.2l3.3-0.1l1 0.2l1.1-0.2l2.2 0.1l4.3-0.2l1.1 0.1l1.1-0.2l4.4-0.2l2.1 0.1l2.2-0.2l1.1 0.2l1.1-0.2l1 0.1l1.1-0.2l1.1 0.1l2.2-0.1l2.2 0.1l5.4 0.1l1.1 0.2l1-0.1l4.4 0.3l1.1-0.1l1.1 0.2l1-0.1l1.1 0.2l1.1-0.1l5.4 0.3l6.5-0.2l3.3-0.3l4.3-0.1l1.1 0.1l1.1-0.2l1.1 0.1l1.1-0.2l7.5-0.2l6.6-1.2l2.1-0.2l3.3-0.7l2.2 0l1-0.3l5.5-0.6l1 0l3.3-0.3l3.2-0.3l1.1-0.4l1.1 0l1.1 0l6.5-0.8l1.1-0.1l2.2-0.3l1 0.1l5.5-0.8l1 0.1l2.2-0.5l3.3-0.9l3.2-0.6l1.1-0.4l5.4-1.1l2.2-0.9l1.1-0.2l2.2-1l2.1-0.6l1.1-0.5l3.3-1.2l1-0.5l1.1-0.2l2.2-1l2.2-0.7l1.1 0l6.5-1l1.1 0l1-0.3l1.1 0l1.1-0.3l5.4-0.5l3.3-1l1.1-0.1l1-0.4l1.1-0.1l1.1-0.5l1.1-0.1l4.3-1.3l1.1-0.1l1.1-0.4l1.1-0.1l1.1-0.4l4.3-0.9l1.1-0.4l1.1-0.2l2.1-0.6l4.4-1.7l2.2-0.6l2.1-0.9l1.1-0.3l5.4-2l4.4-1.4l1.1-0.6l2.1-0.6l1.1-0.5l1.1-0.1l1.1-0.4l1.1-0.1l2.1-0.7l1.1-0.1l2.2-0.7l3.2-0.7l1.1-0.3l4.4-1.1l1.1-0.4l2.1-0.3l4.4-1.3l3.2-0.3l2.2-0.5l1.1 0l2.1-0.4l1.1-0.1l1.1-0.3l3.2-0.4l2.2-0.4l1.1 0l3.3-0.7l2.1-0.2l4.4-0.7l1 0.2l1.1-0.3l2.2 0l2.2-0.4l2.1-0.2l1.1 0.1l2.2-0.4l2.2-0.1l2.1-0.2l2.2 0l2.2 0.5l1.1 0.1l1 0.3l1.1 0l1.1-0.2l5.4-0.2l3.3-0.3l2.1 0l1.1-0.3l4.4-0.1l3.2-0.2l1.1-0.2l5.4-0.2l1.1-0.2l1.1 0.1l1.1-0.2l3.2 0l1.1-0.3l1.1 0.1l1.1-0.3l1.1 0.2l1.1-0.3l1 0l1.1 0.2l1.1-0.1l1.1 0.2l1.1-0.2l3.2 0.2l5.5 0.3l2.1-0.1l1.1 0.2l7.6 0.1l4.4-2.1l2.1-0.5l1.1 0.2l3.3-0.2l3.2 0l2.2-0.2l2.2 0.1l1-0.2l1.1 0.1l3.3-0.1l3.2 0l1.1-0.2l3.3 0.1l3.2-0.2l1.1 0.1l1.1-0.1l1.1 0.1l4.3-0.3l1.1 0.2l2.2-0.3l3.2 0.1l1.1-0.1l1.1 0.1l2.1-0.2l1.1 0.1l2.2-0.2l3.3 0.1l1-0.2l1.1 0.1l1.1-0.2l1.1 0.1l2.2-0.2l3.2-0.1l8.7-0.6l3.3 0l5.4-0.4l1.1-0.3l2.1 0.1l1.1-0.3l2.2-0.3l2.2 0l1-0.3l1.1 0.1l2.2-0.2l1.1-0.3l1.1 0.1l1-0.3l2.2-0.1l4.3-0.6l2.2-0.3l1.1 0.1l1.1-0.3l1.1 0l2.1-0.5l1.1 0l3.3-0.5l1.1 0l5.4-0.9l2.1-0.1l2.2-0.4l3.3-0.4l2.1 0.1l1.1-0.1l1.1 0.2l1.1-0.2l1.1 0.1l2.1-0.1l2.2 0.1l2.2-0.1l1.1 0.1l1.1-0.2l1 0.2l1.1-0.2l4.4 0.1l2.1-0.2l1.1 0.2l2.2-0.1l1.1 0.1l1.1-0.2l2.1 0.1l2.2 0l1.1-0.2l8.7 0.2l1-0.2l3.3 0l2.2 0.1l1-0.2l2.2 0.2l3.3 0l2.1-0.2l2.2 0.1l1.1-0.2l3.2 0.2l1.1-0.2l2.2 0.1l1.1-0.1l2.1-0.7l3.3-0.6l1.1 0.1l1.1-0.1l2.1-0.2l1.1 0.1l1.1-0.3l1.1 0l1.1 0.2l1.1-0.3l1 0.1l2.2-0.3l2.2 0.1l1.1-0.2l1.1 0.1l4.3-0.4l1.1 0.1l3.2-0.2l1.1-0.2l1.1 0.2l8.7-0.5l2.2-0.3l2.1 0.1l2.2-0.2l9.7-0.4l2.2-0.2l5.4-0.3l1.1 0.1l2.2-0.2l2.2 0l1-0.2l2.2 0.1l1.1-0.2l1.1 0l3.2-0.3l1.1 0.1l2.2-0.3l4.3-0.2l4.4-0.5l4.3-0.2l1.1-0.2l1.1 0l2.1-0.2l1.1 0l2.2-0.3l1.1 0.1l2.2-0.2l1-0.2l2.2 0l1.1-0.3l1.1 0.2l3.2-0.5l3.3 0l1.1-0.3l1.1 0l1-0.2l1.1 0.1l6.5-0.7l1.1 0.1l1.1-0.2l2.2-0.1l1 0.1l2.2-0.3l1.1 0l1.1-0.2l3.2-0.1l1.1-0.2l1.1 0l2.2-0.1l2.1-0.3l2.2 0l2.2-0.2l1.1-0.2l2.1 0l1.1 0.2l2.2-0.2l1.1 0.2l1.1-0.2l3.2 0.2l4.3-0.2l2.2 0.1l1.1-0.1l1.1 0.2l2.2-0.1l4.3 0.2l2.2 0.2l2.1 0.1l1.1 0.2l4.4 0.4l3.2 0.5l1.1 0.1l1.1 0.2l1.1-0.1l3.2 0.5l2.2 0.1l1.1 0.3l4.3 0.2l3.3 0.5l4.3 0.4l1.1-0.1l1.1 0.3l4.3 0.2l1.1 0.3l3.2 0.1l3.3 0.4l1.1 0.3l1.1 0.1l1 0.4l1.1 0l1.1 0.4l2.2 0.3l3.2 1l1.1 0l2.2 0.6l1.1 0.1l1.1 0.4l1 0.3l1.1 0.1l3.3 0.7l4.3 1.1l1.1 0.5l3.3 1l1.1 0.5l1 0.3l2.2 0.9l1.1 0.3l2.2 0.7l2.1 0l2.2 0.3l2.2-0.1l3.2 0.4l1.1-0.1l2.2 0.1l2.1 0.3l2.2-0.1l3.3 0.3l3.2-0.3l4.3 0l1.1-0.2l2.2 0.2l1.1-0.2l4.3 0l2.2-0.5l1.1-0.3l1.1-0.2l1.1-0.4l4.3-0.8l1.1-0.4l1.1 0.1l1-0.2l1.1 0.2l4.4 0l1-0.1l1.1 0.1l1.1-0.2l1.1 0.2l2.2 0l2.1-0.2l3.3 0.2l1.1-0.1l2.1 0.2l1.1-0.2l2.2 0.2l6.5-0.2l2.2 0l1.1 0.2l1-0.1l1.1 0.1l3.3 0l3.2-0.1l3.3 0.1l1.1-0.2l1.1 0.2l1-0.1l4.4 0.2l1.1-0.2l1 0.2l4.4-0.2l1.1 0.1l1.1 0l2.1 0.1l6.5-0.2l1.1 0l1.1 0.2l2.2-0.2l1.1 0.1l1-0.1l1.1 0.2l2.2-0.1l2.2 0.1l1-0.2l1.1 0.2l4.4-0.2l3.2 0.1l1.1 0.2l1.1-0.2l1.1 0.2l3.2-0.1l2.2 0.1l1.1-0.2l2.1 0l3.3 0.2l4.3-0.2l1.1 0.2l2.2-0.2l1.1 0.2l1.1-0.2l3.2 0.3l1.1-0.2l2.2 0.1l1.1-0.1l1 0.2l1.1-0.3l3.3 0.3l1.1-0.2l3.2 0.2l2.2-0.2l1.1 0.1l3.2-0.1l1.1 0.2l4.4-0.2l1 0.2l2.2-0.1l2.2 0.1l1.1-0.1l6.5 0.1l2.1-0.1l2.2 0.2l1.1-0.2l7.6 0.2l6.5-0.1l1.1 0.3l1-0.2l1.1 0.3l5.5 0.1l1 0l0.1-0.1L1247 253.4L1247 515Z" fill="#84a5f1" stroke="#4a7beb"/>
<path d="M50 515L50 324.9L55 324.9l1.1 0.1l2.1-0.1l3.3 0l1.1 0.1l7.6-0.2l2.1 0l4.4-0.2l1.1 0.1l2.1-0.1l1.1 0.1l2.2-0.1l2.2 0l1.1-0.1l1 0.1l7.6-0.2l1.1 0.1l3.3-0.1l1 0l1.1-0.1l3.3 0l5.4-0.2l1.1 0.2l2.2-0.2l1.1 0.1l5.4 0l2.1-0.1l1.1-0.1l1.1 0.1l1.1-0.1l3.3 0.1l2.1-0.2l2.2 0.1l1.1-0.2l3.2 0.1l4.4-0.1l2.1 0l1.1-0.1l2.2 1.1l1.1 0.2l1-0.1l3.3 0l1.1-0.1l1.1 0.1l4.3-0.3l2.2 0.1l1.1-0.1l1 0.1l3.3-0.3l3.3 0.1l1-0.1l6.6-0.1l2.1-0.2l4.4 0.1l1-0.1l3.3 0l1.1-0.2l1.1 0.1l5.4-0.2l2.2 0l1-0.1l2.2 0.1l1.1-0.1l5.4 0.1l1.1-0.1l6.5 0.1l2.2-0.1l8.6 0.1l3.3-0.1l2.2 0.1l3.2-0.1l1.1 0.1l2.2 0l1.1-0.1l1 0.1l1.1-0.1l2.2 0.1l2.2-0.1l2.1 0.1l3.3-0.1l2.2 0.1l2.1-0.1l1.1 0.1l3.3-0.1l2.1 0.1l3.3-0.1l8.7 0.1l3.2-0.1l1.1 0.1l2.2-0.1l1.1 0.1l1-0.1l1.1 0.1l1.1-0.1l2.2 0.1l4.3-0.2l1.1 0.1l10.9-0.5l6.5-0.1l2.1-0.1l3.3-0.1l1.1-0.2l2.1 0.1l1.1-0.2l1.1 0.2l2.2-0.1l5.4-0.4l1.1 0.1l3.2-0.2l8.7-0.2l2.2-0.2l1.1 0.1l5.4-0.3l6.5-0.2l2.2-0.2l1 0.1l4.4-0.2l1.1-0.1l1 0l1.1-0.1l8.7-0.3l1.1-0.2l1.1 0.2l4.3-0.3l2.2 0l3.2-0.3l2.2 0.1l5.4-0.3l2.2 0l1.1-0.1l7.6-0.1l2.2-0.2l1 0.2l5.5-0.1l1-0.3l1.1 0.2l2.2-0.2l2.2 0.1l2.1-0.2l1.1 0.1l3.3-0.1l1-0.2l1.1 0.2l3.3-0.3l4.3 0.1l1.1-0.2l5.4-0.2l2.2-0.3l2.2 0l2.1-0.3l1.1 0.1l1.1-0.2l1.1 0.1l4.3-0.5l3.3 0l8.7-0.7l1 0l1.1-0.2l3.3 0l6.5-0.9l1.1-0.3l4.3-0.5l1.1-0.3l4.3-0.6l2.2-0.4l3.3-0.3l4.3-0.8l1.1-0.4l2.1-0.4l1.1-0.5l2.2-0.6l1.1-0.2l3.2-1l3.3-0.8l3.2-1l2.2-0.6l1.1-0.4l1.1-0.1l4.3-1.3l2.2-0.4l2.2-0.7l1.1-0.1l3.2-0.8l1.1-0.2l2.2-0.6l10.8-2.6l1.1-0.4l1.1-0.1l2.1-0.7l1.1-0.1l5.4-1.4l1.1-0.5l3.3-0.7l2.1-0.7l9.8-2.5l6.5-1.4l2.2-0.3l2.2-0.7l1 0l1.1-0.4l4.4-0.8l1-0.4l2.2-0.3l3.3-0.8l2.1-0.3l3.3-0.7l2.2-0.3l1.1 0l2.1-0.5l1.1 0l3.3-0.9l5.4-0.9l2.2-0.6l1 0l1.1-0.4l1.1-0.1l2.2-0.5l1.1-0.1l1-0.3l1.1-0.1l3.3-0.7l1.1-0.3l2.1-0.4l2.2-0.8l2.2-0.4l1-0.4l3.3-0.8l1.1-0.4l1.1-0.1l1.1-0.4l1-0.2l3.3-1l4.3-1.1l2.2-0.7l2.2-0.3l5.4-0.2l1.1-0.2l1.1 0.1l2.1-0.2l2.2 0l1.1-0.1l1.1 0.1l1.1-0.2l3.2 0l1.1-0.1l1.1 0l4.3-0.1l3.3-0.3l2.1 0l1.1-0.1l1.1 0.1l6.5-0.3l2.2 0l3.2-0.3l1.1 0.1l1.1-0.2l4.3 0l2.2-0.2l2.2 0.1l4.3-0.3l2.2 0l2.2-0.2l2.1 0l1.1-0.2l3.3-1.7l2.1 0l1.1 0.1l1.1-0.2l1.1 0.1l1.1-0.1l2.1 0l5.5-0.2l2.1 0.1l2.2-0.2l2.2 0.1l1.1-0.2l2.1 0l3.3-0.2l1.1 0.2l4.3-0.3l2.2 0.1l4.3-0.3l6.5 0l2.2-0.2l2.2 0.1l1-0.2l1.1 0.2l1.1-0.2l1.1-0.1l1.1 0.2l4.3-0.3l4.3 0l2.2-0.1l2.2 0.1l1.1-0.2l3.2 0.1l1.1-0.3l1.1 0.1l3.2 0l1.1-0.2l3.3-0.1l3.2-0.3l1.1 0.1l4.4-0.2l1-0.2l2.2-0.1l1.1-0.1l1.1 0l1.1-0.2l1.1 0.1l5.4-0.4l5.4-0.3l1.1-0.2l5.4-0.3l4.4-0.1l5.4-0.5l2.1 0l1.1-0.2l6.5 0l2.2-0.2l1.1 0.1l2.1-0.2l3.3 0l1.1-0.2l1.1 0.2l4.3-0.3l3.3-0.1l2.1 0.2l1.1-0.1l1.1 0l1.1 0.2l1.1-0.1l1.1 0.1l3.2 0l2.2 0.2l2.1-0.1l2.2 0.2l2.2 0l5.4 0.2l4.4 0.6l2.1 0.1l2.2 0.4l5.4 0.6l1.1 0.3l1.1-0.1l1.1 0.4l1.1-0.1l1 0.3l4.4-0.5l1.1-0.3l1 0l2.2 0.3l4.3 0.1l3.3 0.3l1.1-0.1l3.2 0.3l2.2 0.1l1.1-0.1l3.2 0.3l3.3 0l3.2 0.7l2.2 0.1l1.1 0.3l5.4 0.7l2.2 0.4l5.4 0.9l1.1 0l2.2 0.4l1.1 0.1l1 0.3l1.1 0.1l8.7 2.4l1.1 0.1l1.1 0.5l6.5 0.3l1.1-0.1l6.5 0.2l3.2-0.1l2.2 0.2l3.2 0.1l1.1-0.1l2.2 0.1l1.1-0.2l2.1 0.1l1.1-0.2l8.7-0.3l1.1-0.2l3.3-0.1l5.4-0.4l1.1 0.1l1 0l1.1 0.1l2.2-0.1l2.2 0.2l5.4 0l1.1 0.1l6.5 0.1l1.1 0.2l5.4 0l1.1 0.1l5.4 0l1.1 0.2l4.3 0l1.1-0.1l6.5 0.3l3.3-0.1l1 0.2l5.5 0l1 0.2l1.1-0.1l7.6 0.3l1.1-0.1l5.4 0.1l1.1 0.2l1.1-0.1l2.2 0.2l2.1-0.2l2.2 0.3l9.8 0.1l2.1 0.1l2.2-0.1l2.2 0.2l1.1-0.1l2.1 0.2l3.3-0.1l1.1 0.2l1-0.1l3.3 0.2l1.1-0.1l1.1 0.2l2.1 0l1.1-0.1l1.1 0.2l4.4 0l1 0.1l4.4 0l1.1 0.2l1-0.1l1.1 0.1l1.1-0.1l7.6 0.3l3.3-0.1l5.4 0.3l6.5 0l1.1 0.2l4.3 0l1.1 0.2l2.2-0.2l1 0.2l3.3 0.1l2.2-0.1l4.3 0.2l1.1 0l1.1 0.1l1.1-0.1l2.1 0.1l1.1-0.2l1.1 0l4.3-0.6l3.3-0.2l2.2-0.5l1.1 0L1247 276.5L1247 515Z" fill="#bee285" stroke="#a0d44b"/>
<path d="M50 515L50 365L55 365l2.2 0.1l4.3-0.2l6.5 0.2l2.2-0.2l9.7 0.2l1.1-0.2l3.3-9.2l1.1-1.9l11.9-0.5l1.1 0.1l4.3-0.2l2.2 0l1.1-0.1l1.1 0.1l5.4-0.3l14.1-0.3l1.1-0.2l1.1-1.1l1-0.4l2.2 0.2l1.1-0.1l6.5 0l1.1-0.1l1.1 0.2l3.2-0.1l2.2 1.3l1.1 0.1l5.4-0.2l9.7-0.6l1.1 0.1l4.4-0.4l5.4-0.2l2.2-0.2l1.1 0.1l2.1-0.2l2.2 0l5.4-0.1l2.2 0.1l1.1-0.1l3.2 0.1l4.4-0.1l1 0.2l6.6-0.1l5.4 0.1l2.1-0.1l5.5 0.1l4.3-0.1l1.1 0.1l1.1 0l1 0.1l12-0.1l1.1 0.1l2.1-0.1l1.1 0.1l1.1-0.1l4.3 0.1l1.1-0.1l1.1 0.2l5.4-0.2l2.2 0.1l1.1-0.1l3.2 0.1l1.1-0.1l2.2 0.1l3.2-0.2l8.7 0.1l5.4-0.2l6.5 0.1l9.8-0.6l7.6-0.3l3.3-0.3l2.1 0l5.4-0.4l6.6-0.2l2.1-0.3l3.3-0.1l2.2-0.2l3.2-0.1l5.4-0.3l1.1 0.1l1.1-0.2l5.4 0.1l2.2-0.2l5.4 0.1l4.3-0.2l1.1 0.1l1.1-0.1l10.9-0.1l1-0.1l3.3 0.1l2.2-0.1l1.1-0.3l2.1-1.7l1.1 0.1l1.1-0.2l1.1 0.2l1.1-0.2l2.1 0.2l3.3-0.1l2.1 0.1l1.1-0.1l2.2 0.1l1.1-0.1l4.3 0.1l3.3-0.2l4.3 0.2l4.4-0.2l4.3 0.2l1.1-0.1l1.1 0.1l14.1-0.1l1 0.1l2.2-0.2l2.2 0.1l3.2-0.1l6.5 0.2l7.6-0.1l1.1-0.1l4.4 0.2l2.1-0.2l2.2 0.2l1.1-0.2l7.6 0.2l2.1-0.1l17.4-0.1l14.1-0.5l8.7 0l8.6-0.4l1.1 0.2l1.1-0.2l2.2 0.1l1.1-0.2l5.4 0l4.3-0.2l3.3 0l1.1-0.1l2.1 0.1l4.4-0.3l10.8-0.1l19.5-1.2l1.1-0.2l4.4-1.1l1-0.1l4.4-0.3l2.1 0l3.3-0.2l5.4-0.2l2.2-0.2l2.2 0l4.3-0.3l9.8-0.1l2.1-0.2l2.2 0.1l2.2-0.2l4.3-0.1l1.1 0.1l3.2-0.2l2.2 0.1l5.4-0.3l10.9-0.3l1.1-0.2l13 0l15.2-0.3l2.1 0.2l7.6-0.3l9.8 0.1l2.2-0.2l2.1 0.1l5.4-0.2l2.2 0.1l6.5-0.1l1.1 0.1l7.6-0.1l1.1-0.1l1.1 0.1l11.9-0.4l4.3-0.2l5.5-0.1l5.4-0.4l10.8-0.3l4.4-0.3l1.1 0.1l3.2-0.3l2.2 0.1l1.1-0.2l5.4-0.2l3.2 0l7.6-0.4l2.2 0l3.2-0.3l9.8-0.3l2.2-0.2l6.5-0.2l5.4-0.4l9.8-0.4l3.2-0.3l3.3-0.2l1.1-0.1l1 0l12-1l10.8-0.6l2.2-0.3l8.7-0.5l2.1-0.4l2.2-0.7l3.2-0.8l4.4-1.4l1.1-0.2l1.1-0.4l1-0.2l4.4-1.3l1.1-0.1l3.2-0.8l2.2-0.7l8.7-2.1l2.1-0.4l2.2 0.2l2.2 0l2.1 0.2l5.5 0l7.6 0.5l1-0.3l1.1-0.2l1.1-0.3l1.1-0.1l1.1-0.3l5.4-1l3.2-0.8l2.2-0.6l2.2-0.5l1.1-0.3l3.2-0.8l2.2-0.6l7.6-0.6l1.1 0l2.1-0.3l5.5-0.3l5.4-0.4l1.1 0l1.1-0.2l2.1 0.2l3.3 0.8l2.2 0.2l7.5-0.4l2.2 0l1.1-0.2l1.1 0.1l8.7-0.5l2.1 0l1.1-0.2l2.2 0l18.4-3.5l1.1 0l1.1-0.3l3.2-0.5l1.1 0l3.3-0.6l2.1-0.1l1.1-0.2l12-0.5l5.4 0.3l1.1-0.1l1 0.2l2.2 0l2.2 0.3l8.7 0.3l1 0.1l6.6 0.2l2.1 0.2l1.1-0.1l4.3 0.3l1.1-0.2l1.1 0.2l3.3 0l2.1 0.2l5.5 0.1l1 0.1l1.1 0l1.1 0.1l1.1-0.1l1.1 0.2l3.2 0l4.4 0.2l3.2-0.9l2.2-0.4l5.4 0.2l2.2 0.2l3.2 0l1.1 0.1l4.4 0.1l3.2 0.2l2.2 0l2.1 0.2l1.1-0.1l5.5 0.3l1 0l1.1 0.1l3.3-0.2l7.6-0.1l2.1 0.1l6.5-0.2l4.4-0.1l1.1 0.1l1.1-0.1l2.1 0.1l6.5-0.2l1.1 0l1.1-0.1l5.4 0l2.2-0.1l2.2 0.1l3.2-0.1l5.4-0.4l1.1-0.2l4.4-0.2l5.4-0.6l6.5-0.4l1.1-0.2l2.2 0L1247 308.5L1247 515Z" fill="#ec8f8f" stroke="#e35b5b"/>
<path d="M50 515L50 414L55 414l70.5-1.1l2.2-0.2l8.6 0l5.5-0.2l3.2 0.1l2.2 1l2.1 0.2l4.4-0.2l85.7-1.1l49.8-2.3l51-1.4l49.9-5.1l28.2-1.9l24.9-2l22.8-1.3l8.7-0.9l14.1-1.2l26-2.6l12-2.4l4.3-0.7l3.3-0.3l55.3-2.7l49.8-0.7l20.6-1.1l81.4-2.1l5.4-0.3l20.6-0.6l5.4 0l1.1-0.1l5.5 0l13-0.4l26-0.4l1.1-0.1l5.4 0l27.1-0.6l19.5-0.2l1.1-0.4l3.3-5l1-0.5l38-0.7l20.6 0l1.1 0l3.3 0l30.3-1.5l44.5 1.5l46.6 0l1.1 0l4.3 2.2l1.1 0.3l45.6-0.8l61.8-0.5l3.2-0.1l1.1 0.1l2.2-0.2l4.3 0.1l55.4-0.8L1247 374.8L1247 515Z" fill="#c9c1f8" stroke="#b0a4f5"/>
<path d="M50 515L50 428.7L55 428.7l279.8-2.4l156.2-1.3l97.6-1.2l54.2-1.4l296.1-3.6l68.3-1.2l47.7-0.5l7.6-0.1l4.3 2.1l1.1 0.4l59.7-2.5l36.8-2.5l45.6-2.7l8.7-0.5l22.8-0.8L1247 410.5L1247 515Z" fill="#f8d0b7" stroke="#f4b48b"/>
<path d="M50 515L50 456.2L55 456.2l283.1-2.4l104.1-1.8l97.6-2l74.8-2l45.5-2.3l154-2.7l125.9-3.5l119.2-2l1.1-0.1l2.2-1.1l1.1-0.1l177.9-0.3L1247 435.9L1247 515Z" fill="#c6e9bf" stroke="#a3db98"/>
</g>
<text x="452" y="314" font-size="63" font-weight="bold" fill="#3a4560" fill-opacity="0.04" textLength="382" lengthAdjust="spacingAndGlyphs">CryptoQuant</text>
<line x1="47.5" y1="58" x2="47.5" y2="508" stroke="#d4d4d4" stroke-width="1.4"/>
<line x1="1250.8" y1="58" x2="1250.8" y2="508" stroke="#111111" stroke-width="1.8"/>
<g font-size="9.8" fill="#3c3c3c" text-anchor="end">
<text x="34.5" y="77.6">20M</text>
<text x="34.5" y="131.8">17.5M</text>
<text x="34.5" y="186.1">15M</text>
<text x="34.5" y="240.3">12.5M</text>
<text x="34.5" y="294.6">10M</text>
<text x="34.5" y="348.9">7.5M</text>
<text x="34.5" y="403.1">5M</text>
<text x="34.5" y="457.4">2.5M</text>
<text x="34.5" y="511.6">0</text>
</g>
<g font-size="10.2" fill="#444444">
<text x="1264" y="67.6">$80K</text>
<text x="1264" y="102.8">$70K</text>
<text x="1264" y="143.3">$60K</text>
<text x="1264" y="190.6">$50K</text>
<text x="1264" y="248.0">$40K</text>
<text x="1264" y="322.6">$30K</text>
<text x="1264" y="428.6">$20K</text>
</g>
<g font-size="10" fill="#808080" text-anchor="middle">
<line x1="113.2" y1="508" x2="113.2" y2="515.5" stroke="#dcdcdc" stroke-width="1"/>
<text x="114.2" y="531">2022 Jan</text>
<line x1="210.9" y1="508" x2="210.9" y2="515.5" stroke="#dcdcdc" stroke-width="1"/>
<text x="211.9" y="531">2022 Apr</text>
<line x1="309.5" y1="508" x2="309.5" y2="515.5" stroke="#dcdcdc" stroke-width="1"/>
<text x="310.5" y="531">2022 Jul</text>
<line x1="409.3" y1="508" x2="409.3" y2="515.5" stroke="#dcdcdc" stroke-width="1"/>
<text x="410.3" y="531">2022 Oct</text>
<line x1="509.1" y1="508" x2="509.1" y2="515.5" stroke="#dcdcdc" stroke-width="1"/>
<text x="510.1" y="531">2023 Jan</text>
<line x1="606.7" y1="508" x2="606.7" y2="515.5" stroke="#dcdcdc" stroke-width="1"/>
<text x="607.7" y="531">2023 Apr</text>
<line x1="705.4" y1="508" x2="705.4" y2="515.5" stroke="#dcdcdc" stroke-width="1"/>
<text x="706.4" y="531">2023 Jul</text>
<line x1="805.2" y1="508" x2="805.2" y2="515.5" stroke="#dcdcdc" stroke-width="1"/>
<text x="806.2" y="531">2023 Oct</text>
<line x1="904.9" y1="508" x2="904.9" y2="515.5" stroke="#dcdcdc" stroke-width="1"/>
<text x="905.9" y="531">2024 Jan</text>
<line x1="1003.6" y1="508" x2="1003.6" y2="515.5" stroke="#dcdcdc" stroke-width="1"/>
<text x="1004.6" y="531">2024 Apr</text>
<line x1="1102.3" y1="508" x2="1102.3" y2="515.5" stroke="#dcdcdc" stroke-width="1"/>
<text x="1103.3" y="531">2024 Jul</text>
<line x1="1202.1" y1="508" x2="1202.1" y2="515.5" stroke="#dcdcdc" stroke-width="1"/>
<text x="1203.1" y="531">2024 Oct</text>
</g>
<text x="75" y="491.5" font-size="12" fill="#ee2a1e">#DATA 3</text>
<g font-size="10.2" fill="#333333" word-spacing="0.9">
<line x1="133.5" y1="30.3" x2="146.5" y2="30.3" stroke="#444444" stroke-width="1.3"/>
<text x="151.2" y="34" word-spacing="0" textLength="44" lengthAdjust="spacingAndGlyphs">Price USD</text>
<circle cx="220.00" cy="29.6" r="5" fill="#7b6cf0"/>
<text x="231.2" y="34">0d ~ 1d</text>
<circle cx="290.75" cy="29.6" r="5" fill="#f0975a"/>
<text x="302.5" y="34">1d ~ 1w</text>
<circle cx="362.50" cy="29.6" r="5" fill="#6bbf59"/>
<text x="375.0" y="34">1w ~ 1m</text>
<circle cx="438.25" cy="29.6" r="5" fill="#b94fe3"/>
<text x="450.0" y="34">1m ~ 3m</text>
<circle cx="514.50" cy="29.6" r="5" fill="#5fc4e6"/>
<text x="526.2" y="34">3m ~ 6m</text>
<circle cx="591.25" cy="29.6" r="5" fill="#eec643"/>
<text x="602.5" y="34">6m ~ 12m</text>
<circle cx="672.50" cy="29.6" r="5" fill="#e15f9b"/>
<text x="685.0" y="34">12m ~ 18m</text>
<circle cx="760.00" cy="29.6" r="5" fill="#4a7beb"/>
<text x="772.0" y="34">18m ~ 2y</text>
<circle cx="839.50" cy="29.6" r="5" fill="#a0d44b"/>
<text x="850.5" y="34">2y ~ 3y</text>
<circle cx="909.25" cy="29.6" r="5" fill="#e35b5b"/>
<text x="920.5" y="34">3y ~ 5y</text>
<circle cx="978.75" cy="29.6" r="5" fill="#b0a4f5"/>
<text x="990.0" y="34">5y ~ 7y</text>
<circle cx="1048.00" cy="29.6" r="5" fill="#f4b48b"/>
<text x="1059.5" y="34">7y ~ 10y</text>
<circle cx="1123.75" cy="29.6" r="5" fill="#a3db98"/>
<text x="1135.5" y="34">10y ~</text>
</g>
<g>
<circle cx="1240.2" cy="78.8" r="7" fill="#7b6cf0" fill-opacity="0.3"/>
<circle cx="1240.2" cy="83.0" r="7" fill="#f0975a" fill-opacity="0.3"/>
<circle cx="1240.2" cy="93.2" r="7" fill="#6bbf59" fill-opacity="0.3"/>
<circle cx="1240.2" cy="118.9" r="7" fill="#b94fe3" fill-opacity="0.3"/>
<circle cx="1240.2" cy="141.8" r="7" fill="#5fc4e6" fill-opacity="0.3"/>
<circle cx="1240.2" cy="171.4" r="7" fill="#eec643" fill-opacity="0.3"/>
<circle cx="1240.2" cy="231.7" r="7" fill="#e15f9b" fill-opacity="0.3"/>
<circle cx="1240.2" cy="253.6" r="7" fill="#4a7beb" fill-opacity="0.3"/>
<circle cx="1240.2" cy="275.9" r="7" fill="#a0d44b" fill-opacity="0.3"/>
<circle cx="1240.2" cy="308.3" r="7" fill="#e35b5b" fill-opacity="0.3"/>
<circle cx="1240.2" cy="374.9" r="7" fill="#b0a4f5" fill-opacity="0.3"/>
<circle cx="1240.2" cy="410.3" r="7" fill="#f4b48b" fill-opacity="0.3"/>
<circle cx="1240.2" cy="436.0" r="7" fill="#a3db98" fill-opacity="0.3"/>
<path d="M1240.2 74.2 l4.6 4.6 l-4.6 4.6 l-4.6 -4.6 Z" fill="#7b6cf0" stroke="#ffffff" stroke-width="0.8"/>
<rect x="1236.0" y="78.8" width="8.4" height="8.4" fill="#f0975a" stroke="#ffffff" stroke-width="0.8"/>
<path d="M1240.2 88.6 L1244.8 97.8 L1235.6 97.8 Z" fill="#6bbf59" stroke="#ffffff" stroke-width="0.8"/>
<path d="M1235.6 114.3 L1244.8 114.3 L1240.2 123.5 Z" fill="#b94fe3" stroke="#ffffff" stroke-width="0.8"/>
<circle cx="1240.2" cy="141.8" r="4.3" fill="#5fc4e6" stroke="#ffffff" stroke-width="0.8"/>
<path d="M1240.2 166.8 l4.6 4.6 l-4.6 4.6 l-4.6 -4.6 Z" fill="#eec643" stroke="#ffffff" stroke-width="0.8"/>
<rect x="1236.0" y="227.5" width="8.4" height="8.4" fill="#e15f9b" stroke="#ffffff" stroke-width="0.8"/>
<path d="M1240.2 249.0 L1244.8 258.2 L1235.6 258.2 Z" fill="#4a7beb" stroke="#ffffff" stroke-width="0.8"/>
<path d="M1235.6 271.3 L1244.8 271.3 L1240.2 280.5 Z" fill="#a0d44b" stroke="#ffffff" stroke-width="0.8"/>
<circle cx="1240.2" cy="308.3" r="4.3" fill="#e35b5b" stroke="#ffffff" stroke-width="0.8"/>
<path d="M1240.2 370.3 l4.6 4.6 l-4.6 4.6 l-4.6 -4.6 Z" fill="#b0a4f5" stroke="#ffffff" stroke-width="0.8"/>
<rect x="1236.0" y="406.1" width="8.4" height="8.4" fill="#f4b48b" stroke="#ffffff" stroke-width="0.8"/>
<path d="M1240.2 431.4 L1244.8 440.6 L1235.6 440.6 Z" fill="#a3db98" stroke="#ffffff" stroke-width="0.8"/>
<path d="M55.5 108.5l2 7.5l2.5 5l2.5-4l2.5 19l1 15l3-10l2 12.5l1.5-10l2.5 23.5l2.5-16l2.5-1l2.5 11l2.5 27.5l1-5l3 11.5l2-9l3 15l2-7.5l3 12.5l2-12.5l4-11.5l4 1.5l2 20l3-5l3.5 12.5l2.5 11.5l1 11.5l5-13l4 6.5l4 6.5l3 43.5l2-12.5l3.5-2.5l5-8.5l2 11l1.5-30l4-17.5l4.5 12.5l3.5-14l3 24l3.5 24l3-11.5l2.5 5l3-40l3 22.5l3 16l3-23.5l4 26.5l4-21.5l4-7.5l1 7.5l7.5-36.5l3.5 9l3-5l4 17.5l2 7.5l2.5 16l3.5-8.5l3 6.5l3-9l3 11l2.5-3.5l2.5 13.5l2.5-6l3 10l2-12.5l2.5 25l2.5 27.5l0.5 17.5l2-7.5l2 17.5l2.5-17.5l3 20l2.5-12.5l2.5 7.5l2-4l3 10l3.5-26l4 16l4-12l3.5 16l2.5 25l1 45l2 0l2 25l1 18.8l1.5-21.3l3 7.5l3.5-17.5l3.5 15l3.5 12.5l2.8-1.2l1.2-10l3-18.8l4.5 28.8l3.5-21.3l1.5 2.5l3.5-30l4 10l2.5 14l2.5-29l3.8 5l3.7 7l3.5-9.5l2.8-3.7l3.7-5.8l3.5 9.5l1.5 7.5l1.3 23.8l2.2-7.8l4 0l1 11.5l2 13.5l2-7.2l2.5 2.2l3.5-1l2.8 16l2.2-33.5l3.5-11.5l1.5 26.5l2.8 6.3l1.7-3.8l3.5 20.5l3.5-11.7l1.3 6.2l3.7-6.2l3.5 3.7l2.8-16.5l3.7 11.5l3.5 5l2.8-3.7l2.2 3.2l2-5l3 5.5l4-6.5l2.5-15l2.5 4l1-2.5l4 5l3-13l2 8l1.8 37.5l0.7 31l1.3-27.2l2.2 18.7l2.8-7.5l3.7 2.5l3 14.5l2.5-13.2l3 2.2l2 3.5l3-13.5l4 2.8l3.8-2.8l3.7-1l2.5-9l2.5 16.5l3 3.5l2-6l5-1.2l3.5 5.7l4 0l5-4.5l3.8-6.2l2.2-16.3l2.8-27.5l2.2-9l2 5l3-25l4-1l5-9l2.5 9l2.5-9l3.8 9l2.2-2.5l2.8 16.3l2.2-1.3l2.8-27.5l5-5.5l2.2 6.5l4 11.5l3.8-5l2.2 13.5l4 0.5l3.8 27l2.2-31.5l1.5-18.2l2-2.8l1.5-23.5l4-8.7l2.5 3.7l2.5-5l2.5 7.5l2.5-11.2l3.8 3.7l3.7-1.5l3.5 1.5l2.8-20l3.7-1.5l3.3 1.5l1.7 12.5l2.5 13.8l2.5-3.8l3.5-15l4 6l3.8-6l2.4 7.5l5 15l5-2.5l3.8 2.5l5 5l5-15l3.8 10l3.7-1.3l1.3 12.6l2.4-7.6l3.8 6.3l3 7.5l2-11.2l2.5-2.6l2.5-31.2l3.8-8.8l3.7 3.8l5-8.8l3.7 10l2.6 3.8l1.2 8.8l2.5-12.6l5 2.6l5 3.7l2.5-3.7l2.5 7.4l7.5-1.2l5 2l3-5l7 4.2l1.2 6.3l1.3 22.5l5-1.2l5 2.4l2.5-16.2l2.5 17.5l5 1.3l2.5-3.8l3.8 10l3.7-12.5l5-7.5l3.7 7.5l5 1.3l3.8-8.8l2.5-6.2l2.5 3.7l2.5-4.5l5 10.8l3-1.3l2-13.7l2.5-1.3l2.5-12.5l2.5-27.5l2.5-8.7l2.5 1.2l5-7.5l2.5 2.5l3.7-5l3.8-11.2l3.8 10l1.7-15l2 11.2l2.5-7.5l1 10.5l2.8-12l3.7 1.5l2.5-3.7l2.5-7.8l2.5-16l2-15.5l3 0.5l1 2.5l2.8 13.5l2.2-10l2.8 9l2.2-7.5l4-7.5l3.8 6l2.2-2.2l2.8 7.2l3.2-16l1.8 10.5l2.2-8l2.8-14.5l2.2 2l2 22.5l3 6.3l1.5-8.3l2.5 10.5l1.8-3.5l2 15l2.2-3.7l2-11.3l2-1.5l2.5-6.5l2.5 3l3.8-1.5l2.2-11l2.8-17.5l2.2-11.5l2.8-10l6.2-0.5l2.5 4.5l2.5-5l1.5-17.5l1.5-15.5l0.8-12.2l3.1-0.8l1.9-5.5l0.6-18.1l0.6 11.8l3-10l3.2-13.7l1.3-5l1.9-0.6l1.2 8.1l1.9 18.8l1-8.8l2.1 23.8l1.3-21.3l1.9 13.7l1.8-5l1.9-17.4l2.5-1.3l1.9-1.9l1.1-1.8l1.4 3.1l1.8 17.5l1.8-9.4l2-2l2.2-10.5l2.2 5l1.8 7.5l1.8 12.5l2 5l1.9 9.4l1.9-9.4l1.8-6.3l1.9-5.6l1.9 6.9l1.8 3.1l3.2 3.2l1.8 8.7l1.3 10.5l1.3-15.5l1.8-5.6l1.9 0.6l2.5 8.7l1.9-3.7l1.9 5.5l1.8-6.8l5.4 0.8l6-8l6-8l7 6l7 6l8-4l8 8l8 5l6 17l6-10l8-10l8-2l8 5l8 3l8 11l8-9l8-8l8-4l8-4l8 6l8-8l8-8l8-4l4 6l2-2l1.3-3.5l1.7-10.5l2.4-9.3l1.2 2.3l1.3 4.3l1.6 3.7l1.1 4.5l0.8 2.5l0.8-5.2l1.4-22.2" fill="none" stroke="#1c1c1c" stroke-width="1" stroke-linejoin="round"/>
<circle cx="1240.2" cy="100.8" r="7" fill="#000000" fill-opacity="0.28"/>
<circle cx="1240.2" cy="100.8" r="4.4" fill="#111111" stroke="#ffffff" stroke-width="0.9"/>
</g>
<g>
<rect x="1053.5" y="65.5" width="176" height="245" rx="3" fill="#000000" fill-opacity="0.05"/>
<rect x="1052.5" y="64.5" width="175.5" height="244" rx="3" fill="#ffffff" stroke="#e9e9e9" stroke-width="1"/>
<text x="1140" y="82.9" text-anchor="middle" font-size="10.8" font-weight="bold" fill="#111111">2024 Nov 05</text>
<circle cx="1062.4" cy="94.1" r="1.9" fill="#111111"/>
<text x="1068.2" y="97.7" font-size="9.9" font-weight="bold" fill="#111111">Price USD</text>
<text x="1131.2" y="97.7" font-size="9.7" fill="#222222">69,379.51262015</text>
<path d="M1064.2 105.4 l4.0 4.0 l-4.0 4.0 l-4.0 -4.0 Z" fill="#7b6cf0"/>
<text x="1072.2" y="113.0" font-size="9.9" font-weight="bold" fill="#111111">0d ~ 1d</text>
<text x="1131.2" y="113.0" font-size="9.7" fill="#222222">195,706.80745823</text>
<rect x="1061.0" y="121.5" width="6.4" height="6.4" fill="#f0975a"/>
<text x="1072.2" y="128.3" font-size="9.9" font-weight="bold" fill="#111111">1d ~ 1w</text>
<text x="1131.2" y="128.3" font-size="9.7" fill="#222222">465,859.46756011</text>
<path d="M1064.2 136.8 L1067.8 143.1 L1060.6 143.1 Z" fill="#6bbf59"/>
<text x="1072.2" y="143.7" font-size="9.9" font-weight="bold" fill="#111111">1w ~ 1m</text>
<text x="1131.2" y="143.7" font-size="9.7" fill="#222222">1,185,931.48853231</text>
<path d="M1060.6 152.4 L1067.8 152.4 L1064.2 158.7 Z" fill="#b94fe3"/>
<text x="1072.2" y="159.0" font-size="9.9" font-weight="bold" fill="#111111">1m ~ 3m</text>
<text x="1131.2" y="159.0" font-size="9.7" fill="#222222">1,043,329.60998296</text>
<circle cx="1062.4" cy="170.7" r="1.9" fill="#5fc4e6"/>
<text x="1068.2" y="174.3" font-size="9.9" font-weight="bold" fill="#111111">3m ~ 6m</text>
<text x="1131.2" y="174.3" font-size="9.7" fill="#222222">1,367,900.49435552</text>
<path d="M1064.2 182.0 l4.0 4.0 l-4.0 4.0 l-4.0 -4.0 Z" fill="#eec643"/>
<text x="1072.2" y="189.6" font-size="9.9" font-weight="bold" fill="#111111">6m ~ 12m</text>
<text x="1131.2" y="189.6" font-size="9.7" fill="#222222">2,785,328.43309716</text>
<rect x="1061.0" y="198.1" width="6.4" height="6.4" fill="#e15f9b"/>
<text x="1072.2" y="204.9" font-size="9.9" font-weight="bold" fill="#111111">12m ~ 18m</text>
<text x="1131.2" y="204.9" font-size="9.7" fill="#222222">1,003,776.0884613</text>
<path d="M1064.2 213.4 L1067.8 219.7 L1060.6 219.7 Z" fill="#4a7beb"/>
<text x="1072.2" y="220.3" font-size="9.9" font-weight="bold" fill="#111111">18m ~ 2y</text>
<text x="1131.2" y="220.3" font-size="9.7" fill="#222222">1,060,025.07413326</text>
<path d="M1060.6 229.0 L1067.8 229.0 L1064.2 235.3 Z" fill="#a0d44b"/>
<text x="1072.2" y="235.6" font-size="9.9" font-weight="bold" fill="#111111">2y ~ 3y</text>
<text x="1131.2" y="235.6" font-size="9.7" fill="#222222">1,474,213.35880683</text>
<circle cx="1062.4" cy="247.3" r="1.9" fill="#e35b5b"/>
<text x="1068.2" y="250.9" font-size="9.9" font-weight="bold" fill="#111111">3y ~ 5y</text>
<text x="1131.2" y="250.9" font-size="9.7" fill="#222222">3,056,718.76828546</text>
<path d="M1064.2 258.6 l4.0 4.0 l-4.0 4.0 l-4.0 -4.0 Z" fill="#b0a4f5"/>
<text x="1072.2" y="266.2" font-size="9.9" font-weight="bold" fill="#111111">5y ~ 7y</text>
<text x="1131.2" y="266.2" font-size="9.7" fill="#222222">1,645,214.98596476</text>
<rect x="1061.0" y="274.7" width="6.4" height="6.4" fill="#f4b48b"/>
<text x="1072.2" y="281.5" font-size="9.9" font-weight="bold" fill="#111111">7y ~ 10y</text>
<text x="1131.2" y="281.5" font-size="9.7" fill="#222222">1,169,170.76748329</text>
<path d="M1064.2 290.0 L1067.8 296.3 L1060.6 296.3 Z" fill="#a3db98"/>
<text x="1072.2" y="296.9" font-size="9.9" font-weight="bold" fill="#111111">10y ~</text>
<text x="1131.2" y="296.9" font-size="9.7" fill="#222222">3,325,051.95084985</text>
</g>
</svg></body></html>
